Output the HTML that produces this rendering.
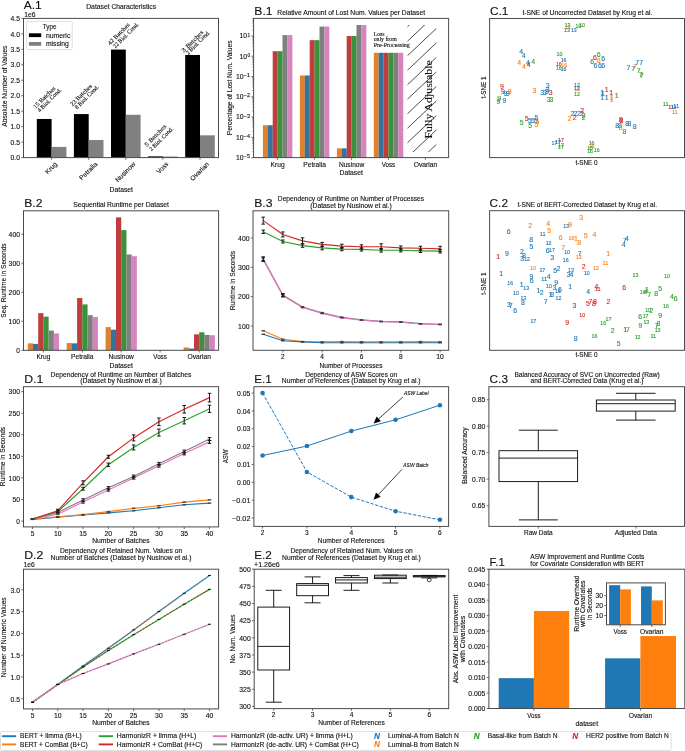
<!DOCTYPE html>
<html><head><meta charset="utf-8"><style>
html,body{margin:0;padding:0;background:#fff;}
body{width:685px;height:751px;overflow:hidden;}
svg{display:block;font-family:"Liberation Sans", sans-serif;will-change:transform;}
</style></head><body>
<svg width="685" height="751" viewBox="0 0 685 751">
<rect x="0" y="0" width="685" height="751" fill="#fff"/>
<rect x="36.80" y="118.97" width="14.80" height="38.63" fill="#000000"/>
<rect x="51.60" y="146.92" width="14.80" height="10.68" fill="#808080"/>
<rect x="73.90" y="114.08" width="14.80" height="43.52" fill="#000000"/>
<rect x="88.70" y="140.02" width="14.80" height="17.58" fill="#808080"/>
<rect x="111.00" y="49.58" width="14.80" height="108.02" fill="#000000"/>
<rect x="125.80" y="114.77" width="14.80" height="42.83" fill="#808080"/>
<rect x="148.10" y="156.36" width="14.80" height="1.24" fill="#000000"/>
<rect x="162.90" y="156.52" width="14.80" height="1.08" fill="#808080"/>
<rect x="185.20" y="54.97" width="14.80" height="102.63" fill="#000000"/>
<rect x="200.00" y="135.32" width="14.80" height="22.28" fill="#808080"/>
<rect x="23.50" y="18.40" width="195.00" height="139.20" fill="none" stroke="#4a4a4a" stroke-width="1.0"/>
<line x1="21.30" y1="157.60" x2="23.50" y2="157.60" stroke="#4a4a4a" stroke-width="0.8"/>
<text x="20.00" y="160.30" font-size="6.57" fill="#111" stroke="#111" stroke-width="0.12" text-anchor="end" textLength="9.49" lengthAdjust="spacingAndGlyphs">0.0</text>
<line x1="21.30" y1="142.12" x2="23.50" y2="142.12" stroke="#4a4a4a" stroke-width="0.8"/>
<text x="20.00" y="144.82" font-size="6.57" fill="#111" stroke="#111" stroke-width="0.12" text-anchor="end" textLength="9.49" lengthAdjust="spacingAndGlyphs">0.5</text>
<line x1="21.30" y1="126.65" x2="23.50" y2="126.65" stroke="#4a4a4a" stroke-width="0.8"/>
<text x="20.00" y="129.35" font-size="6.57" fill="#111" stroke="#111" stroke-width="0.12" text-anchor="end" textLength="9.49" lengthAdjust="spacingAndGlyphs">1.0</text>
<line x1="21.30" y1="111.17" x2="23.50" y2="111.17" stroke="#4a4a4a" stroke-width="0.8"/>
<text x="20.00" y="113.88" font-size="6.57" fill="#111" stroke="#111" stroke-width="0.12" text-anchor="end" textLength="9.49" lengthAdjust="spacingAndGlyphs">1.5</text>
<line x1="21.30" y1="95.70" x2="23.50" y2="95.70" stroke="#4a4a4a" stroke-width="0.8"/>
<text x="20.00" y="98.40" font-size="6.57" fill="#111" stroke="#111" stroke-width="0.12" text-anchor="end" textLength="9.49" lengthAdjust="spacingAndGlyphs">2.0</text>
<line x1="21.30" y1="80.22" x2="23.50" y2="80.22" stroke="#4a4a4a" stroke-width="0.8"/>
<text x="20.00" y="82.92" font-size="6.57" fill="#111" stroke="#111" stroke-width="0.12" text-anchor="end" textLength="9.49" lengthAdjust="spacingAndGlyphs">2.5</text>
<line x1="21.30" y1="64.75" x2="23.50" y2="64.75" stroke="#4a4a4a" stroke-width="0.8"/>
<text x="20.00" y="67.45" font-size="6.57" fill="#111" stroke="#111" stroke-width="0.12" text-anchor="end" textLength="9.49" lengthAdjust="spacingAndGlyphs">3.0</text>
<line x1="21.30" y1="49.27" x2="23.50" y2="49.27" stroke="#4a4a4a" stroke-width="0.8"/>
<text x="20.00" y="51.97" font-size="6.57" fill="#111" stroke="#111" stroke-width="0.12" text-anchor="end" textLength="9.49" lengthAdjust="spacingAndGlyphs">3.5</text>
<line x1="21.30" y1="33.80" x2="23.50" y2="33.80" stroke="#4a4a4a" stroke-width="0.8"/>
<text x="20.00" y="36.50" font-size="6.57" fill="#111" stroke="#111" stroke-width="0.12" text-anchor="end" textLength="9.49" lengthAdjust="spacingAndGlyphs">4.0</text>
<line x1="21.30" y1="18.32" x2="23.50" y2="18.32" stroke="#4a4a4a" stroke-width="0.8"/>
<text x="20.00" y="21.02" font-size="6.57" fill="#111" stroke="#111" stroke-width="0.12" text-anchor="end" textLength="9.49" lengthAdjust="spacingAndGlyphs">4.5</text>
<text x="24.20" y="16.50" font-size="6.57" fill="#111" stroke="#111" stroke-width="0.12" textLength="11.27" lengthAdjust="spacingAndGlyphs">1e6</text>
<text x="23.80" y="8.80" font-size="11.80" fill="#111" stroke="#111" stroke-width="0.12" textLength="17.99" lengthAdjust="spacingAndGlyphs">A.1</text>
<text x="121.20" y="8.90" font-size="6.57" fill="#111" stroke="#111" stroke-width="0.12" text-anchor="middle" textLength="69.91" lengthAdjust="spacingAndGlyphs">Dataset Characteristics</text>
<line x1="51.60" y1="157.60" x2="51.60" y2="159.80" stroke="#4a4a4a" stroke-width="0.8"/>
<text x="47.80" y="174.51" font-size="6.57" fill="#111" stroke="#111" stroke-width="0.12" transform="rotate(-45 47.80 174.51)" textLength="13.94" lengthAdjust="spacingAndGlyphs">Krug</text>
<line x1="88.70" y1="157.60" x2="88.70" y2="159.80" stroke="#4a4a4a" stroke-width="0.8"/>
<text x="81.88" y="180.55" font-size="6.57" fill="#111" stroke="#111" stroke-width="0.12" transform="rotate(-45 81.88 180.55)" textLength="22.49" lengthAdjust="spacingAndGlyphs">Petralia</text>
<line x1="125.80" y1="157.60" x2="125.80" y2="159.80" stroke="#4a4a4a" stroke-width="0.8"/>
<text x="117.97" y="182.57" font-size="6.57" fill="#111" stroke="#111" stroke-width="0.12" transform="rotate(-45 117.97 182.57)" textLength="25.34" lengthAdjust="spacingAndGlyphs">Nusinow</text>
<line x1="162.90" y1="157.60" x2="162.90" y2="159.80" stroke="#4a4a4a" stroke-width="0.8"/>
<text x="159.26" y="174.19" font-size="6.57" fill="#111" stroke="#111" stroke-width="0.12" transform="rotate(-45 159.26 174.19)" textLength="13.49" lengthAdjust="spacingAndGlyphs">Voss</text>
<line x1="200.00" y1="157.60" x2="200.00" y2="159.80" stroke="#4a4a4a" stroke-width="0.8"/>
<text x="192.84" y="181.23" font-size="6.57" fill="#111" stroke="#111" stroke-width="0.12" transform="rotate(-45 192.84 181.23)" textLength="23.45" lengthAdjust="spacingAndGlyphs">Ovarian</text>
<text x="121.30" y="191.50" font-size="6.57" fill="#111" stroke="#111" stroke-width="0.12" text-anchor="middle" textLength="23.38" lengthAdjust="spacingAndGlyphs">Dataset</text>
<text x="7.00" y="86.20" font-size="6.57" fill="#111" stroke="#111" stroke-width="0.12" text-anchor="middle" transform="rotate(-90 7.00 86.20)" textLength="81.03" lengthAdjust="spacingAndGlyphs">Absolute Number of Values</text>
<rect x="26.60" y="21.40" width="45.60" height="28.20" fill="#ffffff" stroke="#d0d0d0" stroke-width="0.7" rx="1.2"/>
<text x="49.60" y="28.60" font-size="6.57" fill="#111" stroke="#111" stroke-width="0.12" text-anchor="middle" textLength="13.71" lengthAdjust="spacingAndGlyphs">Type</text>
<rect x="28.90" y="33.30" width="12.30" height="3.80" fill="#000000"/>
<text x="45.90" y="37.50" font-size="6.57" fill="#111" stroke="#111" stroke-width="0.12" textLength="24.45" lengthAdjust="spacingAndGlyphs">numeric</text>
<rect x="28.90" y="42.00" width="12.30" height="3.80" fill="#808080"/>
<text x="45.90" y="46.00" font-size="6.57" fill="#111" stroke="#111" stroke-width="0.12" textLength="22.93" lengthAdjust="spacingAndGlyphs">missing</text>
<text x="35.60" y="109.00" font-size="6.00" fill="#111" stroke="#111" stroke-width="0.12" font-family='"Liberation Serif", serif' transform="rotate(-45 35.60 109.00)" textLength="28.40" lengthAdjust="spacingAndGlyphs">15 Batches</text>
<text x="39.70" y="112.50" font-size="6.00" fill="#111" stroke="#111" stroke-width="0.12" font-family='"Liberation Serif", serif' transform="rotate(-45 39.70 112.50)" textLength="31.20" lengthAdjust="spacingAndGlyphs">4 Biol. Cond.</text>
<text x="72.40" y="106.60" font-size="6.00" fill="#111" stroke="#111" stroke-width="0.12" font-family='"Liberation Serif", serif' transform="rotate(-45 72.40 106.60)" textLength="28.40" lengthAdjust="spacingAndGlyphs">23 Batches</text>
<text x="77.10" y="109.50" font-size="6.00" fill="#111" stroke="#111" stroke-width="0.12" font-family='"Liberation Serif", serif' transform="rotate(-45 77.10 109.50)" textLength="31.20" lengthAdjust="spacingAndGlyphs">8 Biol. Cond.</text>
<text x="110.00" y="45.40" font-size="6.00" fill="#111" stroke="#111" stroke-width="0.12" font-family='"Liberation Serif", serif' transform="rotate(-45 110.00 45.40)" textLength="28.40" lengthAdjust="spacingAndGlyphs">42 Batches</text>
<text x="115.30" y="48.60" font-size="6.00" fill="#111" stroke="#111" stroke-width="0.12" font-family='"Liberation Serif", serif' transform="rotate(-45 115.30 48.60)" textLength="33.70" lengthAdjust="spacingAndGlyphs">22 Biol. Cond.</text>
<text x="146.80" y="146.90" font-size="6.00" fill="#111" stroke="#111" stroke-width="0.12" font-family='"Liberation Serif", serif' transform="rotate(-45 146.80 146.90)" textLength="28.40" lengthAdjust="spacingAndGlyphs">5 Batches</text>
<text x="151.60" y="151.30" font-size="6.00" fill="#111" stroke="#111" stroke-width="0.12" font-family='"Liberation Serif", serif' transform="rotate(-45 151.60 151.30)" textLength="31.20" lengthAdjust="spacingAndGlyphs">2 Biol. Cond.</text>
<text x="183.80" y="52.70" font-size="6.00" fill="#111" stroke="#111" stroke-width="0.12" font-family='"Liberation Serif", serif' transform="rotate(-45 183.80 52.70)" textLength="28.40" lengthAdjust="spacingAndGlyphs">3 Batches</text>
<text x="188.20" y="55.00" font-size="6.00" fill="#111" stroke="#111" stroke-width="0.12" font-family='"Liberation Serif", serif' transform="rotate(-45 188.20 55.00)" textLength="31.20" lengthAdjust="spacingAndGlyphs">2 Biol. Cond.</text>
<rect x="262.90" y="125.22" width="4.95" height="32.38" fill="#e1812c"/>
<rect x="267.80" y="125.22" width="4.95" height="32.38" fill="#3274a1"/>
<rect x="272.70" y="51.21" width="4.95" height="106.39" fill="#c03d3e"/>
<rect x="277.60" y="51.21" width="4.95" height="106.39" fill="#3a923a"/>
<rect x="282.50" y="35.09" width="4.95" height="122.51" fill="#7f7f7f"/>
<rect x="287.40" y="35.09" width="4.95" height="122.51" fill="#d684bd"/>
<rect x="299.90" y="75.48" width="4.95" height="82.11" fill="#e1812c"/>
<rect x="304.80" y="75.48" width="4.95" height="82.11" fill="#3274a1"/>
<rect x="309.70" y="40.16" width="4.95" height="117.44" fill="#c03d3e"/>
<rect x="314.60" y="40.16" width="4.95" height="117.44" fill="#3a923a"/>
<rect x="319.50" y="26.56" width="4.95" height="131.04" fill="#7f7f7f"/>
<rect x="324.40" y="26.56" width="4.95" height="131.04" fill="#d684bd"/>
<rect x="336.90" y="148.36" width="4.95" height="9.24" fill="#e1812c"/>
<rect x="341.80" y="148.36" width="4.95" height="9.24" fill="#3274a1"/>
<rect x="346.70" y="36.00" width="4.95" height="121.60" fill="#c03d3e"/>
<rect x="351.60" y="36.00" width="4.95" height="121.60" fill="#3a923a"/>
<rect x="356.50" y="25.00" width="4.95" height="132.60" fill="#7f7f7f"/>
<rect x="361.40" y="25.00" width="4.95" height="132.60" fill="#d684bd"/>
<rect x="373.80" y="52.81" width="4.95" height="104.79" fill="#e1812c"/>
<rect x="378.70" y="52.81" width="4.95" height="104.79" fill="#3274a1"/>
<rect x="383.60" y="52.81" width="4.95" height="104.79" fill="#c03d3e"/>
<rect x="388.50" y="52.81" width="4.95" height="104.79" fill="#3a923a"/>
<rect x="393.40" y="52.81" width="4.95" height="104.79" fill="#7f7f7f"/>
<rect x="398.30" y="52.81" width="4.95" height="104.79" fill="#d684bd"/>
<clipPath id="hclip"><rect x="407.3" y="25" width="29" height="127"/></clipPath>
<g clip-path="url(#hclip)" stroke="#111" stroke-width="0.75"><line x1="407.3" y1="12.40" x2="447.30" y2="-25.40"/><line x1="407.3" y1="26.90" x2="447.30" y2="-10.90"/><line x1="407.3" y1="41.40" x2="447.30" y2="3.60"/><line x1="407.3" y1="55.90" x2="447.30" y2="18.10"/><line x1="407.3" y1="70.40" x2="447.30" y2="32.60"/><line x1="407.3" y1="84.90" x2="447.30" y2="47.10"/><line x1="407.3" y1="99.40" x2="447.30" y2="61.60"/><line x1="407.3" y1="113.90" x2="447.30" y2="76.10"/><line x1="407.3" y1="128.40" x2="447.30" y2="90.60"/><line x1="407.3" y1="142.90" x2="447.30" y2="105.10"/><line x1="407.3" y1="157.40" x2="447.30" y2="119.60"/><line x1="407.3" y1="171.90" x2="447.30" y2="134.10"/><line x1="407.3" y1="186.40" x2="447.30" y2="148.60"/><line x1="407.3" y1="200.90" x2="447.30" y2="163.10"/><line x1="407.3" y1="215.40" x2="447.30" y2="177.60"/><line x1="407.3" y1="229.90" x2="447.30" y2="192.10"/></g>
<text x="432.00" y="138.60" font-size="10.50" fill="#111" stroke="#111" stroke-width="0.12" font-family='"Liberation Serif", serif' transform="rotate(-90 432.00 138.60)" textLength="78.28" lengthAdjust="spacingAndGlyphs">Fully Adjustable</text>
<text x="373.70" y="35.80" font-size="5.60" fill="#111" stroke="#111" stroke-width="0.12" font-family='"Liberation Serif", serif' textLength="10.89" lengthAdjust="spacingAndGlyphs">Loss</text>
<text x="373.70" y="41.20" font-size="5.60" fill="#111" stroke="#111" stroke-width="0.12" font-family='"Liberation Serif", serif' textLength="23.02" lengthAdjust="spacingAndGlyphs">only from</text>
<text x="373.70" y="46.60" font-size="5.60" fill="#111" stroke="#111" stroke-width="0.12" font-family='"Liberation Serif", serif' textLength="36.17" lengthAdjust="spacingAndGlyphs">Pre-Processing</text>
<rect x="253.60" y="18.40" width="195.00" height="139.20" fill="none" stroke="#4a4a4a" stroke-width="1.0"/>
<line x1="251.40" y1="157.70" x2="253.60" y2="157.70" stroke="#4a4a4a" stroke-width="0.8"/>
<text x="250.00" y="158.30" font-size="4.62" fill="#111" stroke="#111" stroke-width="0.12" text-anchor="end" textLength="6.19" lengthAdjust="spacingAndGlyphs">−5</text>
<text x="243.61" y="160.00" font-size="6.57" fill="#111" stroke="#111" stroke-width="0.12" text-anchor="end" textLength="7.60" lengthAdjust="spacingAndGlyphs">10</text>
<line x1="251.40" y1="137.40" x2="253.60" y2="137.40" stroke="#4a4a4a" stroke-width="0.8"/>
<text x="250.00" y="138.00" font-size="4.62" fill="#111" stroke="#111" stroke-width="0.12" text-anchor="end" textLength="6.19" lengthAdjust="spacingAndGlyphs">−4</text>
<text x="243.61" y="139.70" font-size="6.57" fill="#111" stroke="#111" stroke-width="0.12" text-anchor="end" textLength="7.60" lengthAdjust="spacingAndGlyphs">10</text>
<line x1="251.40" y1="117.10" x2="253.60" y2="117.10" stroke="#4a4a4a" stroke-width="0.8"/>
<text x="250.00" y="117.70" font-size="4.62" fill="#111" stroke="#111" stroke-width="0.12" text-anchor="end" textLength="6.19" lengthAdjust="spacingAndGlyphs">−3</text>
<text x="243.61" y="119.40" font-size="6.57" fill="#111" stroke="#111" stroke-width="0.12" text-anchor="end" textLength="7.60" lengthAdjust="spacingAndGlyphs">10</text>
<line x1="251.40" y1="96.80" x2="253.60" y2="96.80" stroke="#4a4a4a" stroke-width="0.8"/>
<text x="250.00" y="97.40" font-size="4.62" fill="#111" stroke="#111" stroke-width="0.12" text-anchor="end" textLength="6.19" lengthAdjust="spacingAndGlyphs">−2</text>
<text x="243.61" y="99.10" font-size="6.57" fill="#111" stroke="#111" stroke-width="0.12" text-anchor="end" textLength="7.60" lengthAdjust="spacingAndGlyphs">10</text>
<line x1="251.40" y1="76.50" x2="253.60" y2="76.50" stroke="#4a4a4a" stroke-width="0.8"/>
<text x="250.00" y="77.10" font-size="4.62" fill="#111" stroke="#111" stroke-width="0.12" text-anchor="end" textLength="6.19" lengthAdjust="spacingAndGlyphs">−1</text>
<text x="243.61" y="78.80" font-size="6.57" fill="#111" stroke="#111" stroke-width="0.12" text-anchor="end" textLength="7.60" lengthAdjust="spacingAndGlyphs">10</text>
<line x1="251.40" y1="56.20" x2="253.60" y2="56.20" stroke="#4a4a4a" stroke-width="0.8"/>
<text x="250.00" y="56.80" font-size="4.62" fill="#111" stroke="#111" stroke-width="0.12" text-anchor="end">0</text>
<text x="247.13" y="58.50" font-size="6.57" fill="#111" stroke="#111" stroke-width="0.12" text-anchor="end" textLength="7.60" lengthAdjust="spacingAndGlyphs">10</text>
<line x1="251.40" y1="35.90" x2="253.60" y2="35.90" stroke="#4a4a4a" stroke-width="0.8"/>
<text x="250.00" y="36.50" font-size="4.62" fill="#111" stroke="#111" stroke-width="0.12" text-anchor="end">1</text>
<text x="247.13" y="38.20" font-size="6.57" fill="#111" stroke="#111" stroke-width="0.12" text-anchor="end" textLength="7.60" lengthAdjust="spacingAndGlyphs">10</text>
<line x1="252.30" y1="151.59" x2="253.60" y2="151.59" stroke="#4a4a4a" stroke-width="0.6"/>
<line x1="252.30" y1="148.01" x2="253.60" y2="148.01" stroke="#4a4a4a" stroke-width="0.6"/>
<line x1="252.30" y1="145.48" x2="253.60" y2="145.48" stroke="#4a4a4a" stroke-width="0.6"/>
<line x1="252.30" y1="143.51" x2="253.60" y2="143.51" stroke="#4a4a4a" stroke-width="0.6"/>
<line x1="252.30" y1="141.90" x2="253.60" y2="141.90" stroke="#4a4a4a" stroke-width="0.6"/>
<line x1="252.30" y1="140.54" x2="253.60" y2="140.54" stroke="#4a4a4a" stroke-width="0.6"/>
<line x1="252.30" y1="139.37" x2="253.60" y2="139.37" stroke="#4a4a4a" stroke-width="0.6"/>
<line x1="252.30" y1="138.33" x2="253.60" y2="138.33" stroke="#4a4a4a" stroke-width="0.6"/>
<line x1="252.30" y1="131.29" x2="253.60" y2="131.29" stroke="#4a4a4a" stroke-width="0.6"/>
<line x1="252.30" y1="127.71" x2="253.60" y2="127.71" stroke="#4a4a4a" stroke-width="0.6"/>
<line x1="252.30" y1="125.18" x2="253.60" y2="125.18" stroke="#4a4a4a" stroke-width="0.6"/>
<line x1="252.30" y1="123.21" x2="253.60" y2="123.21" stroke="#4a4a4a" stroke-width="0.6"/>
<line x1="252.30" y1="121.60" x2="253.60" y2="121.60" stroke="#4a4a4a" stroke-width="0.6"/>
<line x1="252.30" y1="120.24" x2="253.60" y2="120.24" stroke="#4a4a4a" stroke-width="0.6"/>
<line x1="252.30" y1="119.07" x2="253.60" y2="119.07" stroke="#4a4a4a" stroke-width="0.6"/>
<line x1="252.30" y1="118.03" x2="253.60" y2="118.03" stroke="#4a4a4a" stroke-width="0.6"/>
<line x1="252.30" y1="110.99" x2="253.60" y2="110.99" stroke="#4a4a4a" stroke-width="0.6"/>
<line x1="252.30" y1="107.41" x2="253.60" y2="107.41" stroke="#4a4a4a" stroke-width="0.6"/>
<line x1="252.30" y1="104.88" x2="253.60" y2="104.88" stroke="#4a4a4a" stroke-width="0.6"/>
<line x1="252.30" y1="102.91" x2="253.60" y2="102.91" stroke="#4a4a4a" stroke-width="0.6"/>
<line x1="252.30" y1="101.30" x2="253.60" y2="101.30" stroke="#4a4a4a" stroke-width="0.6"/>
<line x1="252.30" y1="99.94" x2="253.60" y2="99.94" stroke="#4a4a4a" stroke-width="0.6"/>
<line x1="252.30" y1="98.77" x2="253.60" y2="98.77" stroke="#4a4a4a" stroke-width="0.6"/>
<line x1="252.30" y1="97.73" x2="253.60" y2="97.73" stroke="#4a4a4a" stroke-width="0.6"/>
<line x1="252.30" y1="90.69" x2="253.60" y2="90.69" stroke="#4a4a4a" stroke-width="0.6"/>
<line x1="252.30" y1="87.11" x2="253.60" y2="87.11" stroke="#4a4a4a" stroke-width="0.6"/>
<line x1="252.30" y1="84.58" x2="253.60" y2="84.58" stroke="#4a4a4a" stroke-width="0.6"/>
<line x1="252.30" y1="82.61" x2="253.60" y2="82.61" stroke="#4a4a4a" stroke-width="0.6"/>
<line x1="252.30" y1="81.00" x2="253.60" y2="81.00" stroke="#4a4a4a" stroke-width="0.6"/>
<line x1="252.30" y1="79.64" x2="253.60" y2="79.64" stroke="#4a4a4a" stroke-width="0.6"/>
<line x1="252.30" y1="78.47" x2="253.60" y2="78.47" stroke="#4a4a4a" stroke-width="0.6"/>
<line x1="252.30" y1="77.43" x2="253.60" y2="77.43" stroke="#4a4a4a" stroke-width="0.6"/>
<line x1="252.30" y1="70.39" x2="253.60" y2="70.39" stroke="#4a4a4a" stroke-width="0.6"/>
<line x1="252.30" y1="66.81" x2="253.60" y2="66.81" stroke="#4a4a4a" stroke-width="0.6"/>
<line x1="252.30" y1="64.28" x2="253.60" y2="64.28" stroke="#4a4a4a" stroke-width="0.6"/>
<line x1="252.30" y1="62.31" x2="253.60" y2="62.31" stroke="#4a4a4a" stroke-width="0.6"/>
<line x1="252.30" y1="60.70" x2="253.60" y2="60.70" stroke="#4a4a4a" stroke-width="0.6"/>
<line x1="252.30" y1="59.34" x2="253.60" y2="59.34" stroke="#4a4a4a" stroke-width="0.6"/>
<line x1="252.30" y1="58.17" x2="253.60" y2="58.17" stroke="#4a4a4a" stroke-width="0.6"/>
<line x1="252.30" y1="57.13" x2="253.60" y2="57.13" stroke="#4a4a4a" stroke-width="0.6"/>
<line x1="252.30" y1="50.09" x2="253.60" y2="50.09" stroke="#4a4a4a" stroke-width="0.6"/>
<line x1="252.30" y1="46.51" x2="253.60" y2="46.51" stroke="#4a4a4a" stroke-width="0.6"/>
<line x1="252.30" y1="43.98" x2="253.60" y2="43.98" stroke="#4a4a4a" stroke-width="0.6"/>
<line x1="252.30" y1="42.01" x2="253.60" y2="42.01" stroke="#4a4a4a" stroke-width="0.6"/>
<line x1="252.30" y1="40.40" x2="253.60" y2="40.40" stroke="#4a4a4a" stroke-width="0.6"/>
<line x1="252.30" y1="39.04" x2="253.60" y2="39.04" stroke="#4a4a4a" stroke-width="0.6"/>
<line x1="252.30" y1="37.87" x2="253.60" y2="37.87" stroke="#4a4a4a" stroke-width="0.6"/>
<line x1="252.30" y1="36.83" x2="253.60" y2="36.83" stroke="#4a4a4a" stroke-width="0.6"/>
<line x1="252.30" y1="29.79" x2="253.60" y2="29.79" stroke="#4a4a4a" stroke-width="0.6"/>
<line x1="252.30" y1="26.21" x2="253.60" y2="26.21" stroke="#4a4a4a" stroke-width="0.6"/>
<line x1="252.30" y1="23.68" x2="253.60" y2="23.68" stroke="#4a4a4a" stroke-width="0.6"/>
<line x1="252.30" y1="21.71" x2="253.60" y2="21.71" stroke="#4a4a4a" stroke-width="0.6"/>
<line x1="252.30" y1="20.10" x2="253.60" y2="20.10" stroke="#4a4a4a" stroke-width="0.6"/>
<line x1="252.30" y1="18.74" x2="253.60" y2="18.74" stroke="#4a4a4a" stroke-width="0.6"/>
<line x1="277.60" y1="157.60" x2="277.60" y2="159.80" stroke="#4a4a4a" stroke-width="0.8"/>
<text x="277.60" y="166.60" font-size="6.57" fill="#111" stroke="#111" stroke-width="0.12" text-anchor="middle" textLength="13.94" lengthAdjust="spacingAndGlyphs">Krug</text>
<line x1="314.60" y1="157.60" x2="314.60" y2="159.80" stroke="#4a4a4a" stroke-width="0.8"/>
<text x="314.60" y="166.60" font-size="6.57" fill="#111" stroke="#111" stroke-width="0.12" text-anchor="middle" textLength="22.49" lengthAdjust="spacingAndGlyphs">Petralia</text>
<line x1="351.60" y1="157.60" x2="351.60" y2="159.80" stroke="#4a4a4a" stroke-width="0.8"/>
<text x="351.60" y="166.60" font-size="6.57" fill="#111" stroke="#111" stroke-width="0.12" text-anchor="middle" textLength="25.34" lengthAdjust="spacingAndGlyphs">Nusinow</text>
<line x1="388.50" y1="157.60" x2="388.50" y2="159.80" stroke="#4a4a4a" stroke-width="0.8"/>
<text x="388.50" y="166.60" font-size="6.57" fill="#111" stroke="#111" stroke-width="0.12" text-anchor="middle" textLength="13.49" lengthAdjust="spacingAndGlyphs">Voss</text>
<line x1="425.40" y1="157.60" x2="425.40" y2="159.80" stroke="#4a4a4a" stroke-width="0.8"/>
<text x="425.40" y="166.60" font-size="6.57" fill="#111" stroke="#111" stroke-width="0.12" text-anchor="middle" textLength="23.45" lengthAdjust="spacingAndGlyphs">Ovarian</text>
<text x="351.20" y="175.00" font-size="6.57" fill="#111" stroke="#111" stroke-width="0.12" text-anchor="middle" textLength="23.38" lengthAdjust="spacingAndGlyphs">Dataset</text>
<text x="232.20" y="87.90" font-size="6.57" fill="#111" stroke="#111" stroke-width="0.12" text-anchor="middle" transform="rotate(-90 232.20 87.90)" textLength="94.72" lengthAdjust="spacingAndGlyphs">Percentage of Lost Num. Values</text>
<text x="254.30" y="15.30" font-size="11.80" fill="#111" stroke="#111" stroke-width="0.12" textLength="18.21" lengthAdjust="spacingAndGlyphs">B.1</text>
<text x="351.20" y="15.40" font-size="6.57" fill="#111" stroke="#111" stroke-width="0.12" text-anchor="middle" textLength="147.66" lengthAdjust="spacingAndGlyphs">Relative Amount of Lost Num. Values per Dataset</text>
<text x="567.60" y="26.56" font-size="5.06" fill="#2ca02c" stroke="#2ca02c" stroke-width="0.12" text-anchor="middle" textLength="5.85" lengthAdjust="spacingAndGlyphs">13</text>
<text x="567.60" y="29.46" font-size="5.06" fill="#ff7f0e" stroke="#ff7f0e" stroke-width="0.12" text-anchor="middle" textLength="5.85" lengthAdjust="spacingAndGlyphs">13</text>
<text x="567.00" y="31.96" font-size="5.06" fill="#1f77b4" stroke="#1f77b4" stroke-width="0.12" text-anchor="middle" textLength="5.85" lengthAdjust="spacingAndGlyphs">13</text>
<text x="573.80" y="32.46" font-size="5.06" fill="#1f77b4" stroke="#1f77b4" stroke-width="0.12" text-anchor="middle" textLength="5.85" lengthAdjust="spacingAndGlyphs">13</text>
<text x="578.50" y="27.66" font-size="5.06" fill="#2ca02c" stroke="#2ca02c" stroke-width="0.12" text-anchor="middle" textLength="5.85" lengthAdjust="spacingAndGlyphs">10</text>
<text x="582.00" y="27.26" font-size="5.06" fill="#2ca02c" stroke="#2ca02c" stroke-width="0.12" text-anchor="middle" textLength="5.85" lengthAdjust="spacingAndGlyphs">10</text>
<text x="521.30" y="54.07" font-size="6.93" fill="#1f77b4" stroke="#1f77b4" stroke-width="0.12" text-anchor="middle">4</text>
<text x="523.80" y="57.87" font-size="6.93" fill="#1f77b4" stroke="#1f77b4" stroke-width="0.12" text-anchor="middle">4</text>
<text x="519.10" y="64.87" font-size="6.93" fill="#ff7f0e" stroke="#ff7f0e" stroke-width="0.12" text-anchor="middle">4</text>
<text x="524.00" y="68.77" font-size="6.93" fill="#ff7f0e" stroke="#ff7f0e" stroke-width="0.12" text-anchor="middle">4</text>
<text x="527.90" y="64.67" font-size="6.93" fill="#1f77b4" stroke="#1f77b4" stroke-width="0.12" text-anchor="middle">4</text>
<text x="528.70" y="66.87" font-size="6.93" fill="#d62728" stroke="#d62728" stroke-width="0.12" text-anchor="middle">4</text>
<text x="533.30" y="63.97" font-size="6.93" fill="#2ca02c" stroke="#2ca02c" stroke-width="0.12" text-anchor="middle">4</text>
<text x="559.50" y="56.36" font-size="5.06" fill="#2ca02c" stroke="#2ca02c" stroke-width="0.12" text-anchor="middle" textLength="5.85" lengthAdjust="spacingAndGlyphs">10</text>
<text x="563.60" y="61.66" font-size="5.06" fill="#1f77b4" stroke="#1f77b4" stroke-width="0.12" text-anchor="middle" textLength="5.85" lengthAdjust="spacingAndGlyphs">16</text>
<text x="558.80" y="65.96" font-size="5.06" fill="#d62728" stroke="#d62728" stroke-width="0.12" text-anchor="middle" textLength="5.85" lengthAdjust="spacingAndGlyphs">16</text>
<text x="564.20" y="67.06" font-size="5.06" fill="#ff7f0e" stroke="#ff7f0e" stroke-width="0.12" text-anchor="middle" textLength="5.85" lengthAdjust="spacingAndGlyphs">16</text>
<text x="558.80" y="70.26" font-size="5.06" fill="#2ca02c" stroke="#2ca02c" stroke-width="0.12" text-anchor="middle" textLength="5.85" lengthAdjust="spacingAndGlyphs">16</text>
<text x="563.60" y="70.96" font-size="5.06" fill="#1f77b4" stroke="#1f77b4" stroke-width="0.12" text-anchor="middle" textLength="5.85" lengthAdjust="spacingAndGlyphs">16</text>
<text x="598.60" y="56.67" font-size="6.93" fill="#2ca02c" stroke="#2ca02c" stroke-width="0.12" text-anchor="middle">6</text>
<text x="594.90" y="60.47" font-size="6.93" fill="#d62728" stroke="#d62728" stroke-width="0.12" text-anchor="middle">6</text>
<text x="598.60" y="63.27" font-size="6.93" fill="#ff7f0e" stroke="#ff7f0e" stroke-width="0.12" text-anchor="middle">6</text>
<text x="603.20" y="61.47" font-size="6.93" fill="#1f77b4" stroke="#1f77b4" stroke-width="0.12" text-anchor="middle">6</text>
<text x="592.30" y="63.67" font-size="6.93" fill="#2ca02c" stroke="#2ca02c" stroke-width="0.12" text-anchor="middle">6</text>
<text x="595.50" y="68.07" font-size="6.93" fill="#1f77b4" stroke="#1f77b4" stroke-width="0.12" text-anchor="middle">6</text>
<text x="600.00" y="68.07" font-size="6.93" fill="#1f77b4" stroke="#1f77b4" stroke-width="0.12" text-anchor="middle">6</text>
<text x="603.20" y="68.07" font-size="6.93" fill="#1f77b4" stroke="#1f77b4" stroke-width="0.12" text-anchor="middle">6</text>
<text x="628.50" y="69.87" font-size="6.93" fill="#1f77b4" stroke="#1f77b4" stroke-width="0.12" text-anchor="middle">7</text>
<text x="633.20" y="71.27" font-size="6.93" fill="#1f77b4" stroke="#1f77b4" stroke-width="0.12" text-anchor="middle">7</text>
<text x="635.00" y="69.07" font-size="6.93" fill="#ff7f0e" stroke="#ff7f0e" stroke-width="0.12" text-anchor="middle">7</text>
<text x="637.30" y="65.47" font-size="6.93" fill="#1f77b4" stroke="#1f77b4" stroke-width="0.12" text-anchor="middle">7</text>
<text x="641.20" y="64.67" font-size="6.93" fill="#1f77b4" stroke="#1f77b4" stroke-width="0.12" text-anchor="middle">7</text>
<text x="638.70" y="72.77" font-size="6.93" fill="#2ca02c" stroke="#2ca02c" stroke-width="0.12" text-anchor="middle">7</text>
<text x="641.60" y="77.57" font-size="6.93" fill="#2ca02c" stroke="#2ca02c" stroke-width="0.12" text-anchor="middle">7</text>
<text x="641.00" y="76.77" font-size="6.93" fill="#2ca02c" stroke="#2ca02c" stroke-width="0.12" text-anchor="middle">7</text>
<text x="501.90" y="88.67" font-size="6.93" fill="#d62728" stroke="#d62728" stroke-width="0.12" text-anchor="middle">9</text>
<text x="509.60" y="93.97" font-size="6.93" fill="#ff7f0e" stroke="#ff7f0e" stroke-width="0.12" text-anchor="middle">9</text>
<text x="503.00" y="93.97" font-size="6.93" fill="#1f77b4" stroke="#1f77b4" stroke-width="0.12" text-anchor="middle">9</text>
<text x="505.50" y="96.27" font-size="6.93" fill="#1f77b4" stroke="#1f77b4" stroke-width="0.12" text-anchor="middle">9</text>
<text x="507.90" y="96.27" font-size="6.93" fill="#1f77b4" stroke="#1f77b4" stroke-width="0.12" text-anchor="middle">9</text>
<text x="499.20" y="100.97" font-size="6.93" fill="#2ca02c" stroke="#2ca02c" stroke-width="0.12" text-anchor="middle">9</text>
<text x="498.50" y="104.27" font-size="6.93" fill="#2ca02c" stroke="#2ca02c" stroke-width="0.12" text-anchor="middle">9</text>
<text x="504.40" y="102.67" font-size="6.93" fill="#1f77b4" stroke="#1f77b4" stroke-width="0.12" text-anchor="middle">9</text>
<text x="534.40" y="92.77" font-size="6.93" fill="#ff7f0e" stroke="#ff7f0e" stroke-width="0.12" text-anchor="middle">3</text>
<text x="547.60" y="88.07" font-size="6.93" fill="#1f77b4" stroke="#1f77b4" stroke-width="0.12" text-anchor="middle">3</text>
<text x="547.60" y="92.27" font-size="6.93" fill="#1f77b4" stroke="#1f77b4" stroke-width="0.12" text-anchor="middle">3</text>
<text x="547.00" y="94.27" font-size="6.93" fill="#1f77b4" stroke="#1f77b4" stroke-width="0.12" text-anchor="middle">3</text>
<text x="542.30" y="95.07" font-size="6.93" fill="#1f77b4" stroke="#1f77b4" stroke-width="0.12" text-anchor="middle">3</text>
<text x="545.00" y="95.27" font-size="6.93" fill="#1f77b4" stroke="#1f77b4" stroke-width="0.12" text-anchor="middle">3</text>
<text x="550.80" y="95.07" font-size="6.93" fill="#d62728" stroke="#d62728" stroke-width="0.12" text-anchor="middle">3</text>
<text x="548.60" y="101.67" font-size="6.93" fill="#2ca02c" stroke="#2ca02c" stroke-width="0.12" text-anchor="middle">3</text>
<text x="551.50" y="101.67" font-size="6.93" fill="#2ca02c" stroke="#2ca02c" stroke-width="0.12" text-anchor="middle">3</text>
<text x="577.00" y="86.76" font-size="5.06" fill="#1f77b4" stroke="#1f77b4" stroke-width="0.12" text-anchor="middle" textLength="5.85" lengthAdjust="spacingAndGlyphs">12</text>
<text x="577.00" y="89.66" font-size="5.06" fill="#1f77b4" stroke="#1f77b4" stroke-width="0.12" text-anchor="middle" textLength="5.85" lengthAdjust="spacingAndGlyphs">12</text>
<text x="577.00" y="91.16" font-size="5.06" fill="#ff7f0e" stroke="#ff7f0e" stroke-width="0.12" text-anchor="middle" textLength="5.85" lengthAdjust="spacingAndGlyphs">12</text>
<text x="577.00" y="96.26" font-size="5.06" fill="#2ca02c" stroke="#2ca02c" stroke-width="0.12" text-anchor="middle" textLength="5.85" lengthAdjust="spacingAndGlyphs">12</text>
<text x="526.70" y="120.97" font-size="6.93" fill="#d62728" stroke="#d62728" stroke-width="0.12" text-anchor="middle">5</text>
<text x="530.00" y="123.27" font-size="6.93" fill="#1f77b4" stroke="#1f77b4" stroke-width="0.12" text-anchor="middle">5</text>
<text x="533.00" y="123.27" font-size="6.93" fill="#1f77b4" stroke="#1f77b4" stroke-width="0.12" text-anchor="middle">5</text>
<text x="536.00" y="123.27" font-size="6.93" fill="#1f77b4" stroke="#1f77b4" stroke-width="0.12" text-anchor="middle">5</text>
<text x="536.50" y="120.47" font-size="6.93" fill="#1f77b4" stroke="#1f77b4" stroke-width="0.12" text-anchor="middle">5</text>
<text x="521.60" y="124.57" font-size="6.93" fill="#2ca02c" stroke="#2ca02c" stroke-width="0.12" text-anchor="middle">5</text>
<text x="530.30" y="127.57" font-size="6.93" fill="#2ca02c" stroke="#2ca02c" stroke-width="0.12" text-anchor="middle">5</text>
<text x="536.50" y="127.27" font-size="6.93" fill="#ff7f0e" stroke="#ff7f0e" stroke-width="0.12" text-anchor="middle">5</text>
<text x="537.50" y="123.77" font-size="6.93" fill="#ff7f0e" stroke="#ff7f0e" stroke-width="0.12" text-anchor="middle">5</text>
<text x="569.50" y="120.97" font-size="6.93" fill="#ff7f0e" stroke="#ff7f0e" stroke-width="0.12" text-anchor="middle">2</text>
<text x="574.60" y="119.97" font-size="6.93" fill="#d62728" stroke="#d62728" stroke-width="0.12" text-anchor="middle">2</text>
<text x="572.40" y="115.87" font-size="6.93" fill="#1f77b4" stroke="#1f77b4" stroke-width="0.12" text-anchor="middle">2</text>
<text x="575.50" y="116.27" font-size="6.93" fill="#1f77b4" stroke="#1f77b4" stroke-width="0.12" text-anchor="middle">2</text>
<text x="579.00" y="116.27" font-size="6.93" fill="#1f77b4" stroke="#1f77b4" stroke-width="0.12" text-anchor="middle">2</text>
<text x="582.00" y="116.27" font-size="6.93" fill="#1f77b4" stroke="#1f77b4" stroke-width="0.12" text-anchor="middle">2</text>
<text x="582.20" y="113.27" font-size="6.93" fill="#d62728" stroke="#d62728" stroke-width="0.12" text-anchor="middle">2</text>
<text x="583.60" y="118.07" font-size="6.93" fill="#2ca02c" stroke="#2ca02c" stroke-width="0.12" text-anchor="middle">2</text>
<text x="583.60" y="120.27" font-size="6.93" fill="#2ca02c" stroke="#2ca02c" stroke-width="0.12" text-anchor="middle">2</text>
<text x="554.40" y="145.46" font-size="5.06" fill="#1f77b4" stroke="#1f77b4" stroke-width="0.12" text-anchor="middle" textLength="5.85" lengthAdjust="spacingAndGlyphs">17</text>
<text x="558.00" y="143.66" font-size="5.06" fill="#1f77b4" stroke="#1f77b4" stroke-width="0.12" text-anchor="middle" textLength="5.85" lengthAdjust="spacingAndGlyphs">17</text>
<text x="561.00" y="141.56" font-size="5.06" fill="#d62728" stroke="#d62728" stroke-width="0.12" text-anchor="middle" textLength="5.85" lengthAdjust="spacingAndGlyphs">17</text>
<text x="561.00" y="146.66" font-size="5.06" fill="#2ca02c" stroke="#2ca02c" stroke-width="0.12" text-anchor="middle" textLength="5.85" lengthAdjust="spacingAndGlyphs">17</text>
<text x="561.00" y="148.66" font-size="5.06" fill="#2ca02c" stroke="#2ca02c" stroke-width="0.12" text-anchor="middle" textLength="5.85" lengthAdjust="spacingAndGlyphs">17</text>
<text x="606.60" y="91.77" font-size="6.93" fill="#d62728" stroke="#d62728" stroke-width="0.12" text-anchor="middle">1</text>
<text x="602.20" y="95.07" font-size="6.93" fill="#1f77b4" stroke="#1f77b4" stroke-width="0.12" text-anchor="middle">1</text>
<text x="603.00" y="96.27" font-size="6.93" fill="#1f77b4" stroke="#1f77b4" stroke-width="0.12" text-anchor="middle">1</text>
<text x="611.30" y="94.67" font-size="6.93" fill="#d62728" stroke="#d62728" stroke-width="0.12" text-anchor="middle">1</text>
<text x="616.80" y="97.57" font-size="6.93" fill="#2ca02c" stroke="#2ca02c" stroke-width="0.12" text-anchor="middle">1</text>
<text x="602.20" y="99.77" font-size="6.93" fill="#1f77b4" stroke="#1f77b4" stroke-width="0.12" text-anchor="middle">1</text>
<text x="606.60" y="99.77" font-size="6.93" fill="#1f77b4" stroke="#1f77b4" stroke-width="0.12" text-anchor="middle">1</text>
<text x="611.60" y="99.77" font-size="6.93" fill="#ff7f0e" stroke="#ff7f0e" stroke-width="0.12" text-anchor="middle">1</text>
<text x="611.60" y="102.27" font-size="6.93" fill="#ff7f0e" stroke="#ff7f0e" stroke-width="0.12" text-anchor="middle">1</text>
<text x="665.60" y="105.76" font-size="5.06" fill="#2ca02c" stroke="#2ca02c" stroke-width="0.12" text-anchor="middle" textLength="5.85" lengthAdjust="spacingAndGlyphs">11</text>
<text x="671.10" y="109.06" font-size="5.06" fill="#d62728" stroke="#d62728" stroke-width="0.12" text-anchor="middle" textLength="5.85" lengthAdjust="spacingAndGlyphs">11</text>
<text x="673.80" y="108.66" font-size="5.06" fill="#1f77b4" stroke="#1f77b4" stroke-width="0.12" text-anchor="middle" textLength="5.85" lengthAdjust="spacingAndGlyphs">11</text>
<text x="676.20" y="107.66" font-size="5.06" fill="#1f77b4" stroke="#1f77b4" stroke-width="0.12" text-anchor="middle" textLength="5.85" lengthAdjust="spacingAndGlyphs">11</text>
<text x="674.80" y="113.76" font-size="5.06" fill="#ff7f0e" stroke="#ff7f0e" stroke-width="0.12" text-anchor="middle" textLength="5.85" lengthAdjust="spacingAndGlyphs">11</text>
<text x="620.80" y="121.67" font-size="6.93" fill="#d62728" stroke="#d62728" stroke-width="0.12" text-anchor="middle">8</text>
<text x="621.50" y="123.27" font-size="6.93" fill="#d62728" stroke="#d62728" stroke-width="0.12" text-anchor="middle">8</text>
<text x="627.30" y="125.77" font-size="6.93" fill="#1f77b4" stroke="#1f77b4" stroke-width="0.12" text-anchor="middle">8</text>
<text x="629.50" y="125.77" font-size="6.93" fill="#1f77b4" stroke="#1f77b4" stroke-width="0.12" text-anchor="middle">8</text>
<text x="634.60" y="128.97" font-size="6.93" fill="#1f77b4" stroke="#1f77b4" stroke-width="0.12" text-anchor="middle">8</text>
<text x="617.10" y="127.57" font-size="6.93" fill="#1f77b4" stroke="#1f77b4" stroke-width="0.12" text-anchor="middle">8</text>
<text x="620.00" y="127.57" font-size="6.93" fill="#1f77b4" stroke="#1f77b4" stroke-width="0.12" text-anchor="middle">8</text>
<text x="620.80" y="130.47" font-size="6.93" fill="#ff7f0e" stroke="#ff7f0e" stroke-width="0.12" text-anchor="middle">8</text>
<text x="624.40" y="134.07" font-size="6.93" fill="#2ca02c" stroke="#2ca02c" stroke-width="0.12" text-anchor="middle">8</text>
<text x="591.60" y="145.16" font-size="5.06" fill="#1f77b4" stroke="#1f77b4" stroke-width="0.12" text-anchor="middle" textLength="5.85" lengthAdjust="spacingAndGlyphs">16</text>
<text x="591.60" y="147.66" font-size="5.06" fill="#ff7f0e" stroke="#ff7f0e" stroke-width="0.12" text-anchor="middle" textLength="5.85" lengthAdjust="spacingAndGlyphs">16</text>
<text x="590.10" y="150.26" font-size="5.06" fill="#2ca02c" stroke="#2ca02c" stroke-width="0.12" text-anchor="middle" textLength="5.85" lengthAdjust="spacingAndGlyphs">16</text>
<text x="590.10" y="153.16" font-size="5.06" fill="#2ca02c" stroke="#2ca02c" stroke-width="0.12" text-anchor="middle" textLength="5.85" lengthAdjust="spacingAndGlyphs">16</text>
<text x="596.70" y="152.46" font-size="5.06" fill="#2ca02c" stroke="#2ca02c" stroke-width="0.12" text-anchor="middle" textLength="5.85" lengthAdjust="spacingAndGlyphs">16</text>
<rect x="489.60" y="18.50" width="194.90" height="139.10" fill="none" stroke="#4a4a4a" stroke-width="1.0"/>
<text x="489.90" y="15.00" font-size="11.80" fill="#111" stroke="#111" stroke-width="0.12" textLength="18.34" lengthAdjust="spacingAndGlyphs">C.1</text>
<text x="587.40" y="15.40" font-size="6.57" fill="#111" stroke="#111" stroke-width="0.12" text-anchor="middle" textLength="129.95" lengthAdjust="spacingAndGlyphs">t-SNE of Uncorrected Dataset by Krug et al.</text>
<text x="586.50" y="164.60" font-size="6.57" fill="#111" stroke="#111" stroke-width="0.12" text-anchor="middle" textLength="22.22" lengthAdjust="spacingAndGlyphs">t-SNE 0</text>
<text x="485.80" y="87.50" font-size="6.57" fill="#111" stroke="#111" stroke-width="0.12" text-anchor="middle" transform="rotate(-90 485.80 87.50)" textLength="22.22" lengthAdjust="spacingAndGlyphs">t-SNE 1</text>
<rect x="27.80" y="343.33" width="5.25" height="6.97" fill="#e1812c"/>
<rect x="33.00" y="343.91" width="5.25" height="6.39" fill="#3274a1"/>
<rect x="38.20" y="313.14" width="5.25" height="37.16" fill="#c03d3e"/>
<rect x="43.40" y="316.63" width="5.25" height="33.67" fill="#3a923a"/>
<rect x="48.60" y="330.56" width="5.25" height="19.74" fill="#7f7f7f"/>
<rect x="53.80" y="333.46" width="5.25" height="16.84" fill="#d684bd"/>
<rect x="66.70" y="343.04" width="5.25" height="7.26" fill="#e1812c"/>
<rect x="71.90" y="343.33" width="5.25" height="6.97" fill="#3274a1"/>
<rect x="77.10" y="298.05" width="5.25" height="52.25" fill="#c03d3e"/>
<rect x="82.30" y="304.43" width="5.25" height="45.87" fill="#3a923a"/>
<rect x="87.50" y="315.17" width="5.25" height="35.13" fill="#7f7f7f"/>
<rect x="92.70" y="316.92" width="5.25" height="33.38" fill="#d684bd"/>
<rect x="105.60" y="327.08" width="5.25" height="23.22" fill="#e1812c"/>
<rect x="110.80" y="329.69" width="5.25" height="20.61" fill="#3274a1"/>
<rect x="116.00" y="217.34" width="5.25" height="132.96" fill="#c03d3e"/>
<rect x="121.20" y="230.12" width="5.25" height="120.18" fill="#3a923a"/>
<rect x="126.40" y="254.50" width="5.25" height="95.80" fill="#7f7f7f"/>
<rect x="131.60" y="256.24" width="5.25" height="94.06" fill="#d684bd"/>
<rect x="144.50" y="350.21" width="5.25" height="0.09" fill="#e1812c"/>
<rect x="149.70" y="350.21" width="5.25" height="0.09" fill="#3274a1"/>
<rect x="154.90" y="350.21" width="5.25" height="0.09" fill="#c03d3e"/>
<rect x="160.10" y="350.21" width="5.25" height="0.09" fill="#3a923a"/>
<rect x="165.30" y="350.21" width="5.25" height="0.09" fill="#7f7f7f"/>
<rect x="170.50" y="350.21" width="5.25" height="0.09" fill="#d684bd"/>
<rect x="183.60" y="347.40" width="5.25" height="2.90" fill="#e1812c"/>
<rect x="188.80" y="348.56" width="5.25" height="1.74" fill="#3274a1"/>
<rect x="194.00" y="334.33" width="5.25" height="15.97" fill="#c03d3e"/>
<rect x="199.20" y="332.30" width="5.25" height="18.00" fill="#3a923a"/>
<rect x="204.40" y="334.91" width="5.25" height="15.39" fill="#7f7f7f"/>
<rect x="209.60" y="335.20" width="5.25" height="15.10" fill="#d684bd"/>
<rect x="23.50" y="210.80" width="195.10" height="139.50" fill="none" stroke="#4a4a4a" stroke-width="1.0"/>
<line x1="21.30" y1="350.30" x2="23.50" y2="350.30" stroke="#4a4a4a" stroke-width="0.8"/>
<text x="20.00" y="353.00" font-size="6.57" fill="#111" stroke="#111" stroke-width="0.12" text-anchor="end">0</text>
<line x1="21.30" y1="321.27" x2="23.50" y2="321.27" stroke="#4a4a4a" stroke-width="0.8"/>
<text x="20.00" y="323.97" font-size="6.57" fill="#111" stroke="#111" stroke-width="0.12" text-anchor="end" textLength="11.39" lengthAdjust="spacingAndGlyphs">100</text>
<line x1="21.30" y1="292.24" x2="23.50" y2="292.24" stroke="#4a4a4a" stroke-width="0.8"/>
<text x="20.00" y="294.94" font-size="6.57" fill="#111" stroke="#111" stroke-width="0.12" text-anchor="end" textLength="11.39" lengthAdjust="spacingAndGlyphs">200</text>
<line x1="21.30" y1="263.21" x2="23.50" y2="263.21" stroke="#4a4a4a" stroke-width="0.8"/>
<text x="20.00" y="265.91" font-size="6.57" fill="#111" stroke="#111" stroke-width="0.12" text-anchor="end" textLength="11.39" lengthAdjust="spacingAndGlyphs">300</text>
<line x1="21.30" y1="234.18" x2="23.50" y2="234.18" stroke="#4a4a4a" stroke-width="0.8"/>
<text x="20.00" y="236.88" font-size="6.57" fill="#111" stroke="#111" stroke-width="0.12" text-anchor="end" textLength="11.39" lengthAdjust="spacingAndGlyphs">400</text>
<line x1="43.40" y1="350.30" x2="43.40" y2="352.50" stroke="#4a4a4a" stroke-width="0.8"/>
<text x="43.40" y="359.10" font-size="6.57" fill="#111" stroke="#111" stroke-width="0.12" text-anchor="middle" textLength="13.94" lengthAdjust="spacingAndGlyphs">Krug</text>
<line x1="82.30" y1="350.30" x2="82.30" y2="352.50" stroke="#4a4a4a" stroke-width="0.8"/>
<text x="82.30" y="359.10" font-size="6.57" fill="#111" stroke="#111" stroke-width="0.12" text-anchor="middle" textLength="22.49" lengthAdjust="spacingAndGlyphs">Petralia</text>
<line x1="121.20" y1="350.30" x2="121.20" y2="352.50" stroke="#4a4a4a" stroke-width="0.8"/>
<text x="121.20" y="359.10" font-size="6.57" fill="#111" stroke="#111" stroke-width="0.12" text-anchor="middle" textLength="25.34" lengthAdjust="spacingAndGlyphs">Nusinow</text>
<line x1="160.10" y1="350.30" x2="160.10" y2="352.50" stroke="#4a4a4a" stroke-width="0.8"/>
<text x="160.10" y="359.10" font-size="6.57" fill="#111" stroke="#111" stroke-width="0.12" text-anchor="middle" textLength="13.49" lengthAdjust="spacingAndGlyphs">Voss</text>
<line x1="199.20" y1="350.30" x2="199.20" y2="352.50" stroke="#4a4a4a" stroke-width="0.8"/>
<text x="199.20" y="359.10" font-size="6.57" fill="#111" stroke="#111" stroke-width="0.12" text-anchor="middle" textLength="23.45" lengthAdjust="spacingAndGlyphs">Ovarian</text>
<text x="121.20" y="367.50" font-size="6.57" fill="#111" stroke="#111" stroke-width="0.12" text-anchor="middle" textLength="23.38" lengthAdjust="spacingAndGlyphs">Dataset</text>
<text x="6.00" y="280.50" font-size="6.57" fill="#111" stroke="#111" stroke-width="0.12" text-anchor="middle" transform="rotate(-90 6.00 280.50)" textLength="74.30" lengthAdjust="spacingAndGlyphs">Seq. Runtime in Seconds</text>
<text x="24.20" y="206.80" font-size="11.80" fill="#111" stroke="#111" stroke-width="0.12" textLength="18.21" lengthAdjust="spacingAndGlyphs">B.2</text>
<text x="121.10" y="207.20" font-size="6.57" fill="#111" stroke="#111" stroke-width="0.12" text-anchor="middle" textLength="95.73" lengthAdjust="spacingAndGlyphs">Sequential Runtime per Dataset</text>
<polyline points="263.20,258.81 282.86,294.92 302.52,306.96 322.18,312.83 341.84,317.23 361.50,319.87 381.16,321.34 400.82,321.93 420.48,323.69 440.14,324.28" fill="none" stroke="#7f7f7f" stroke-width="1.15" stroke-linejoin="round" stroke-linecap="butt"/>
<polyline points="263.20,259.69 282.86,295.80 302.52,307.54 322.18,313.42 341.84,317.82 361.50,320.17 381.16,321.64 400.82,322.22 420.48,323.98 440.14,324.57" fill="none" stroke="#e377c2" stroke-width="1.15" stroke-linejoin="round" stroke-linecap="butt"/>
<polyline points="263.20,330.74 282.86,339.25 302.52,341.60 322.18,341.89 341.84,341.60 361.50,341.89 381.16,341.89 400.82,341.89 420.48,341.60 440.14,341.89" fill="none" stroke="#ff7f0e" stroke-width="1.15" stroke-linejoin="round" stroke-linecap="butt"/>
<polyline points="263.20,334.26 282.86,340.72 302.52,341.89 322.18,342.78 341.84,342.78 361.50,342.78 381.16,342.78 400.82,342.78 420.48,342.78 440.14,342.78" fill="none" stroke="#1f77b4" stroke-width="1.15" stroke-linejoin="round" stroke-linecap="butt"/>
<polyline points="263.20,231.79 282.86,241.48 302.52,245.59 322.18,247.94 341.84,249.12 361.50,249.41 381.16,250.29 400.82,250.29 420.48,250.88 440.14,251.17" fill="none" stroke="#2ca02c" stroke-width="1.15" stroke-linejoin="round" stroke-linecap="butt"/>
<polyline points="263.20,220.64 282.86,234.44 302.52,240.90 322.18,244.42 341.84,246.18 361.50,246.77 381.16,246.77 400.82,247.94 420.48,248.24 440.14,248.82" fill="none" stroke="#d62728" stroke-width="1.15" stroke-linejoin="round" stroke-linecap="butt"/>
<line x1="263.20" y1="256.81" x2="263.20" y2="260.81" stroke="#151515" stroke-width="1.0"/>
<line x1="261.45" y1="256.81" x2="264.95" y2="256.81" stroke="#151515" stroke-width="1.0"/>
<line x1="261.45" y1="260.81" x2="264.95" y2="260.81" stroke="#151515" stroke-width="1.0"/>
<line x1="282.86" y1="293.52" x2="282.86" y2="296.32" stroke="#151515" stroke-width="1.0"/>
<line x1="281.11" y1="293.52" x2="284.61" y2="293.52" stroke="#151515" stroke-width="1.0"/>
<line x1="281.11" y1="296.32" x2="284.61" y2="296.32" stroke="#151515" stroke-width="1.0"/>
<rect x="300.77" y="306.01" width="3.50" height="1.90" fill="#3a3a3a" fill-opacity="0.85"/>
<rect x="320.43" y="311.88" width="3.50" height="1.90" fill="#3a3a3a" fill-opacity="0.85"/>
<rect x="340.09" y="316.38" width="3.50" height="1.70" fill="#3a3a3a" fill-opacity="0.85"/>
<rect x="359.75" y="319.12" width="3.50" height="1.50" fill="#3a3a3a" fill-opacity="0.85"/>
<rect x="379.41" y="320.59" width="3.50" height="1.50" fill="#3a3a3a" fill-opacity="0.85"/>
<rect x="399.07" y="321.18" width="3.50" height="1.50" fill="#3a3a3a" fill-opacity="0.85"/>
<rect x="418.73" y="322.94" width="3.50" height="1.50" fill="#3a3a3a" fill-opacity="0.85"/>
<rect x="438.39" y="323.53" width="3.50" height="1.50" fill="#3a3a3a" fill-opacity="0.85"/>
<line x1="263.20" y1="257.89" x2="263.20" y2="261.49" stroke="#151515" stroke-width="1.0"/>
<line x1="261.45" y1="257.89" x2="264.95" y2="257.89" stroke="#151515" stroke-width="1.0"/>
<line x1="261.45" y1="261.49" x2="264.95" y2="261.49" stroke="#151515" stroke-width="1.0"/>
<line x1="282.86" y1="294.60" x2="282.86" y2="297.00" stroke="#151515" stroke-width="1.0"/>
<line x1="281.11" y1="294.60" x2="284.61" y2="294.60" stroke="#151515" stroke-width="1.0"/>
<line x1="281.11" y1="297.00" x2="284.61" y2="297.00" stroke="#151515" stroke-width="1.0"/>
<rect x="300.77" y="306.69" width="3.50" height="1.70" fill="#3a3a3a" fill-opacity="0.85"/>
<rect x="320.43" y="312.57" width="3.50" height="1.70" fill="#3a3a3a" fill-opacity="0.85"/>
<rect x="340.09" y="317.07" width="3.50" height="1.50" fill="#3a3a3a" fill-opacity="0.85"/>
<rect x="359.75" y="319.42" width="3.50" height="1.50" fill="#3a3a3a" fill-opacity="0.85"/>
<rect x="379.41" y="320.89" width="3.50" height="1.50" fill="#3a3a3a" fill-opacity="0.85"/>
<rect x="399.07" y="321.47" width="3.50" height="1.50" fill="#3a3a3a" fill-opacity="0.85"/>
<rect x="418.73" y="323.23" width="3.50" height="1.50" fill="#3a3a3a" fill-opacity="0.85"/>
<rect x="438.39" y="323.82" width="3.50" height="1.50" fill="#3a3a3a" fill-opacity="0.85"/>
<rect x="261.45" y="329.99" width="3.50" height="1.50" fill="#3a3a3a" fill-opacity="0.85"/>
<rect x="281.11" y="338.50" width="3.50" height="1.50" fill="#3a3a3a" fill-opacity="0.85"/>
<rect x="300.77" y="340.85" width="3.50" height="1.50" fill="#3a3a3a" fill-opacity="0.85"/>
<rect x="320.43" y="341.14" width="3.50" height="1.50" fill="#3a3a3a" fill-opacity="0.85"/>
<rect x="340.09" y="340.85" width="3.50" height="1.50" fill="#3a3a3a" fill-opacity="0.85"/>
<rect x="359.75" y="341.14" width="3.50" height="1.50" fill="#3a3a3a" fill-opacity="0.85"/>
<rect x="379.41" y="341.14" width="3.50" height="1.50" fill="#3a3a3a" fill-opacity="0.85"/>
<rect x="399.07" y="341.14" width="3.50" height="1.50" fill="#3a3a3a" fill-opacity="0.85"/>
<rect x="418.73" y="340.85" width="3.50" height="1.50" fill="#3a3a3a" fill-opacity="0.85"/>
<rect x="438.39" y="341.14" width="3.50" height="1.50" fill="#3a3a3a" fill-opacity="0.85"/>
<rect x="261.45" y="333.51" width="3.50" height="1.50" fill="#3a3a3a" fill-opacity="0.85"/>
<rect x="281.11" y="339.97" width="3.50" height="1.50" fill="#3a3a3a" fill-opacity="0.85"/>
<rect x="300.77" y="341.14" width="3.50" height="1.50" fill="#3a3a3a" fill-opacity="0.85"/>
<rect x="320.43" y="342.03" width="3.50" height="1.50" fill="#3a3a3a" fill-opacity="0.85"/>
<rect x="340.09" y="342.03" width="3.50" height="1.50" fill="#3a3a3a" fill-opacity="0.85"/>
<rect x="359.75" y="342.03" width="3.50" height="1.50" fill="#3a3a3a" fill-opacity="0.85"/>
<rect x="379.41" y="342.03" width="3.50" height="1.50" fill="#3a3a3a" fill-opacity="0.85"/>
<rect x="399.07" y="342.03" width="3.50" height="1.50" fill="#3a3a3a" fill-opacity="0.85"/>
<rect x="418.73" y="342.03" width="3.50" height="1.50" fill="#3a3a3a" fill-opacity="0.85"/>
<rect x="438.39" y="342.03" width="3.50" height="1.50" fill="#3a3a3a" fill-opacity="0.85"/>
<line x1="263.20" y1="230.09" x2="263.20" y2="233.49" stroke="#151515" stroke-width="1.0"/>
<line x1="261.45" y1="230.09" x2="264.95" y2="230.09" stroke="#151515" stroke-width="1.0"/>
<line x1="261.45" y1="233.49" x2="264.95" y2="233.49" stroke="#151515" stroke-width="1.0"/>
<line x1="282.86" y1="239.98" x2="282.86" y2="242.98" stroke="#151515" stroke-width="1.0"/>
<line x1="281.11" y1="239.98" x2="284.61" y2="239.98" stroke="#151515" stroke-width="1.0"/>
<line x1="281.11" y1="242.98" x2="284.61" y2="242.98" stroke="#151515" stroke-width="1.0"/>
<line x1="302.52" y1="243.89" x2="302.52" y2="247.29" stroke="#151515" stroke-width="1.0"/>
<line x1="300.77" y1="243.89" x2="304.27" y2="243.89" stroke="#151515" stroke-width="1.0"/>
<line x1="300.77" y1="247.29" x2="304.27" y2="247.29" stroke="#151515" stroke-width="1.0"/>
<line x1="322.18" y1="246.14" x2="322.18" y2="249.74" stroke="#151515" stroke-width="1.0"/>
<line x1="320.43" y1="246.14" x2="323.93" y2="246.14" stroke="#151515" stroke-width="1.0"/>
<line x1="320.43" y1="249.74" x2="323.93" y2="249.74" stroke="#151515" stroke-width="1.0"/>
<line x1="341.84" y1="247.52" x2="341.84" y2="250.72" stroke="#151515" stroke-width="1.0"/>
<line x1="340.09" y1="247.52" x2="343.59" y2="247.52" stroke="#151515" stroke-width="1.0"/>
<line x1="340.09" y1="250.72" x2="343.59" y2="250.72" stroke="#151515" stroke-width="1.0"/>
<line x1="361.50" y1="247.81" x2="361.50" y2="251.01" stroke="#151515" stroke-width="1.0"/>
<line x1="359.75" y1="247.81" x2="363.25" y2="247.81" stroke="#151515" stroke-width="1.0"/>
<line x1="359.75" y1="251.01" x2="363.25" y2="251.01" stroke="#151515" stroke-width="1.0"/>
<line x1="381.16" y1="248.49" x2="381.16" y2="252.09" stroke="#151515" stroke-width="1.0"/>
<line x1="379.41" y1="248.49" x2="382.91" y2="248.49" stroke="#151515" stroke-width="1.0"/>
<line x1="379.41" y1="252.09" x2="382.91" y2="252.09" stroke="#151515" stroke-width="1.0"/>
<line x1="400.82" y1="248.69" x2="400.82" y2="251.89" stroke="#151515" stroke-width="1.0"/>
<line x1="399.07" y1="248.69" x2="402.57" y2="248.69" stroke="#151515" stroke-width="1.0"/>
<line x1="399.07" y1="251.89" x2="402.57" y2="251.89" stroke="#151515" stroke-width="1.0"/>
<line x1="420.48" y1="249.28" x2="420.48" y2="252.48" stroke="#151515" stroke-width="1.0"/>
<line x1="418.73" y1="249.28" x2="422.23" y2="249.28" stroke="#151515" stroke-width="1.0"/>
<line x1="418.73" y1="252.48" x2="422.23" y2="252.48" stroke="#151515" stroke-width="1.0"/>
<line x1="440.14" y1="249.37" x2="440.14" y2="252.97" stroke="#151515" stroke-width="1.0"/>
<line x1="438.39" y1="249.37" x2="441.89" y2="249.37" stroke="#151515" stroke-width="1.0"/>
<line x1="438.39" y1="252.97" x2="441.89" y2="252.97" stroke="#151515" stroke-width="1.0"/>
<line x1="263.20" y1="217.14" x2="263.20" y2="224.14" stroke="#151515" stroke-width="1.0"/>
<line x1="261.45" y1="217.14" x2="264.95" y2="217.14" stroke="#151515" stroke-width="1.0"/>
<line x1="261.45" y1="224.14" x2="264.95" y2="224.14" stroke="#151515" stroke-width="1.0"/>
<line x1="282.86" y1="231.94" x2="282.86" y2="236.94" stroke="#151515" stroke-width="1.0"/>
<line x1="281.11" y1="231.94" x2="284.61" y2="231.94" stroke="#151515" stroke-width="1.0"/>
<line x1="281.11" y1="236.94" x2="284.61" y2="236.94" stroke="#151515" stroke-width="1.0"/>
<line x1="302.52" y1="237.90" x2="302.52" y2="243.90" stroke="#151515" stroke-width="1.0"/>
<line x1="300.77" y1="237.90" x2="304.27" y2="237.90" stroke="#151515" stroke-width="1.0"/>
<line x1="300.77" y1="243.90" x2="304.27" y2="243.90" stroke="#151515" stroke-width="1.0"/>
<line x1="322.18" y1="242.42" x2="322.18" y2="246.42" stroke="#151515" stroke-width="1.0"/>
<line x1="320.43" y1="242.42" x2="323.93" y2="242.42" stroke="#151515" stroke-width="1.0"/>
<line x1="320.43" y1="246.42" x2="323.93" y2="246.42" stroke="#151515" stroke-width="1.0"/>
<line x1="341.84" y1="244.18" x2="341.84" y2="248.18" stroke="#151515" stroke-width="1.0"/>
<line x1="340.09" y1="244.18" x2="343.59" y2="244.18" stroke="#151515" stroke-width="1.0"/>
<line x1="340.09" y1="248.18" x2="343.59" y2="248.18" stroke="#151515" stroke-width="1.0"/>
<line x1="361.50" y1="244.77" x2="361.50" y2="248.77" stroke="#151515" stroke-width="1.0"/>
<line x1="359.75" y1="244.77" x2="363.25" y2="244.77" stroke="#151515" stroke-width="1.0"/>
<line x1="359.75" y1="248.77" x2="363.25" y2="248.77" stroke="#151515" stroke-width="1.0"/>
<line x1="381.16" y1="243.77" x2="381.16" y2="249.77" stroke="#151515" stroke-width="1.0"/>
<line x1="379.41" y1="243.77" x2="382.91" y2="243.77" stroke="#151515" stroke-width="1.0"/>
<line x1="379.41" y1="249.77" x2="382.91" y2="249.77" stroke="#151515" stroke-width="1.0"/>
<line x1="400.82" y1="245.94" x2="400.82" y2="249.94" stroke="#151515" stroke-width="1.0"/>
<line x1="399.07" y1="245.94" x2="402.57" y2="245.94" stroke="#151515" stroke-width="1.0"/>
<line x1="399.07" y1="249.94" x2="402.57" y2="249.94" stroke="#151515" stroke-width="1.0"/>
<line x1="420.48" y1="246.24" x2="420.48" y2="250.24" stroke="#151515" stroke-width="1.0"/>
<line x1="418.73" y1="246.24" x2="422.23" y2="246.24" stroke="#151515" stroke-width="1.0"/>
<line x1="418.73" y1="250.24" x2="422.23" y2="250.24" stroke="#151515" stroke-width="1.0"/>
<line x1="440.14" y1="246.32" x2="440.14" y2="251.32" stroke="#151515" stroke-width="1.0"/>
<line x1="438.39" y1="246.32" x2="441.89" y2="246.32" stroke="#151515" stroke-width="1.0"/>
<line x1="438.39" y1="251.32" x2="441.89" y2="251.32" stroke="#151515" stroke-width="1.0"/>
<rect x="253.00" y="210.80" width="195.70" height="139.50" fill="none" stroke="#4a4a4a" stroke-width="1.0"/>
<line x1="250.80" y1="326.04" x2="253.00" y2="326.04" stroke="#4a4a4a" stroke-width="0.8"/>
<text x="249.50" y="328.74" font-size="6.57" fill="#111" stroke="#111" stroke-width="0.12" text-anchor="end" textLength="11.39" lengthAdjust="spacingAndGlyphs">100</text>
<line x1="250.80" y1="296.68" x2="253.00" y2="296.68" stroke="#4a4a4a" stroke-width="0.8"/>
<text x="249.50" y="299.38" font-size="6.57" fill="#111" stroke="#111" stroke-width="0.12" text-anchor="end" textLength="11.39" lengthAdjust="spacingAndGlyphs">200</text>
<line x1="250.80" y1="267.32" x2="253.00" y2="267.32" stroke="#4a4a4a" stroke-width="0.8"/>
<text x="249.50" y="270.02" font-size="6.57" fill="#111" stroke="#111" stroke-width="0.12" text-anchor="end" textLength="11.39" lengthAdjust="spacingAndGlyphs">300</text>
<line x1="250.80" y1="237.96" x2="253.00" y2="237.96" stroke="#4a4a4a" stroke-width="0.8"/>
<text x="249.50" y="240.66" font-size="6.57" fill="#111" stroke="#111" stroke-width="0.12" text-anchor="end" textLength="11.39" lengthAdjust="spacingAndGlyphs">400</text>
<line x1="282.86" y1="350.30" x2="282.86" y2="352.50" stroke="#4a4a4a" stroke-width="0.8"/>
<text x="282.86" y="358.90" font-size="6.57" fill="#111" stroke="#111" stroke-width="0.12" text-anchor="middle">2</text>
<line x1="322.18" y1="350.30" x2="322.18" y2="352.50" stroke="#4a4a4a" stroke-width="0.8"/>
<text x="322.18" y="358.90" font-size="6.57" fill="#111" stroke="#111" stroke-width="0.12" text-anchor="middle">4</text>
<line x1="361.50" y1="350.30" x2="361.50" y2="352.50" stroke="#4a4a4a" stroke-width="0.8"/>
<text x="361.50" y="358.90" font-size="6.57" fill="#111" stroke="#111" stroke-width="0.12" text-anchor="middle">6</text>
<line x1="400.82" y1="350.30" x2="400.82" y2="352.50" stroke="#4a4a4a" stroke-width="0.8"/>
<text x="400.82" y="358.90" font-size="6.57" fill="#111" stroke="#111" stroke-width="0.12" text-anchor="middle">8</text>
<line x1="440.14" y1="350.30" x2="440.14" y2="352.50" stroke="#4a4a4a" stroke-width="0.8"/>
<text x="440.14" y="358.90" font-size="6.57" fill="#111" stroke="#111" stroke-width="0.12" text-anchor="middle" textLength="7.60" lengthAdjust="spacingAndGlyphs">10</text>
<text x="351.00" y="367.50" font-size="6.57" fill="#111" stroke="#111" stroke-width="0.12" text-anchor="middle" textLength="62.96" lengthAdjust="spacingAndGlyphs">Number of Processes</text>
<text x="234.60" y="280.60" font-size="6.57" fill="#111" stroke="#111" stroke-width="0.12" text-anchor="middle" transform="rotate(-90 234.60 280.60)" textLength="59.25" lengthAdjust="spacingAndGlyphs">Runtime in Seconds</text>
<text x="254.20" y="206.80" font-size="11.80" fill="#111" stroke="#111" stroke-width="0.12" textLength="18.21" lengthAdjust="spacingAndGlyphs">B.3</text>
<text x="351.00" y="200.70" font-size="6.57" fill="#111" stroke="#111" stroke-width="0.12" text-anchor="middle" textLength="146.26" lengthAdjust="spacingAndGlyphs">Dependency of Runtime on Number of Processes</text>
<text x="351.00" y="207.60" font-size="6.57" fill="#111" stroke="#111" stroke-width="0.12" text-anchor="middle" textLength="81.52" lengthAdjust="spacingAndGlyphs">(Dataset by Nusinow et al.)</text>
<text x="581.10" y="219.77" font-size="6.93" fill="#ff7f0e" stroke="#ff7f0e" stroke-width="0.12" text-anchor="middle">3</text>
<text x="530.30" y="228.07" font-size="6.93" fill="#ff7f0e" stroke="#ff7f0e" stroke-width="0.12" text-anchor="middle">2</text>
<text x="548.10" y="225.57" font-size="6.93" fill="#ff7f0e" stroke="#ff7f0e" stroke-width="0.12" text-anchor="middle">4</text>
<text x="570.00" y="226.67" font-size="6.93" fill="#ff7f0e" stroke="#ff7f0e" stroke-width="0.12" text-anchor="middle">9</text>
<text x="566.10" y="228.36" font-size="5.06" fill="#1f77b4" stroke="#1f77b4" stroke-width="0.12" text-anchor="middle" textLength="5.85" lengthAdjust="spacingAndGlyphs">13</text>
<text x="508.70" y="233.87" font-size="6.93" fill="#1f77b4" stroke="#1f77b4" stroke-width="0.12" text-anchor="middle">6</text>
<text x="542.70" y="235.96" font-size="5.06" fill="#1f77b4" stroke="#1f77b4" stroke-width="0.12" text-anchor="middle" textLength="5.85" lengthAdjust="spacingAndGlyphs">11</text>
<text x="549.30" y="233.37" font-size="6.93" fill="#ff7f0e" stroke="#ff7f0e" stroke-width="0.12" text-anchor="middle">5</text>
<text x="560.60" y="239.77" font-size="6.93" fill="#ff7f0e" stroke="#ff7f0e" stroke-width="0.12" text-anchor="middle">6</text>
<text x="571.50" y="240.06" font-size="5.06" fill="#ff7f0e" stroke="#ff7f0e" stroke-width="0.12" text-anchor="middle" textLength="5.85" lengthAdjust="spacingAndGlyphs">16</text>
<text x="575.90" y="241.27" font-size="6.93" fill="#ff7f0e" stroke="#ff7f0e" stroke-width="0.12" text-anchor="middle">1</text>
<text x="579.20" y="244.57" font-size="6.93" fill="#ff7f0e" stroke="#ff7f0e" stroke-width="0.12" text-anchor="middle">8</text>
<text x="585.60" y="238.27" font-size="6.93" fill="#ff7f0e" stroke="#ff7f0e" stroke-width="0.12" text-anchor="middle">5</text>
<text x="531.10" y="241.67" font-size="6.93" fill="#1f77b4" stroke="#1f77b4" stroke-width="0.12" text-anchor="middle">8</text>
<text x="548.60" y="245.46" font-size="5.06" fill="#1f77b4" stroke="#1f77b4" stroke-width="0.12" text-anchor="middle" textLength="5.85" lengthAdjust="spacingAndGlyphs">12</text>
<text x="531.40" y="248.67" font-size="6.93" fill="#1f77b4" stroke="#1f77b4" stroke-width="0.12" text-anchor="middle">5</text>
<text x="563.20" y="249.67" font-size="6.93" fill="#ff7f0e" stroke="#ff7f0e" stroke-width="0.12" text-anchor="middle">7</text>
<text x="547.60" y="252.87" font-size="6.93" fill="#1f77b4" stroke="#1f77b4" stroke-width="0.12" text-anchor="middle">6</text>
<text x="552.00" y="251.96" font-size="5.06" fill="#1f77b4" stroke="#1f77b4" stroke-width="0.12" text-anchor="middle" textLength="5.85" lengthAdjust="spacingAndGlyphs">17</text>
<text x="567.10" y="253.76" font-size="5.06" fill="#1f77b4" stroke="#1f77b4" stroke-width="0.12" text-anchor="middle" textLength="5.85" lengthAdjust="spacingAndGlyphs">10</text>
<text x="579.70" y="256.27" font-size="6.93" fill="#1f77b4" stroke="#1f77b4" stroke-width="0.12" text-anchor="middle">7</text>
<text x="578.80" y="258.56" font-size="5.06" fill="#ff7f0e" stroke="#ff7f0e" stroke-width="0.12" text-anchor="middle" textLength="5.85" lengthAdjust="spacingAndGlyphs">13</text>
<text x="521.90" y="253.77" font-size="6.93" fill="#1f77b4" stroke="#1f77b4" stroke-width="0.12" text-anchor="middle">2</text>
<text x="507.00" y="255.77" font-size="6.93" fill="#1f77b4" stroke="#1f77b4" stroke-width="0.12" text-anchor="middle">9</text>
<text x="498.20" y="258.77" font-size="6.93" fill="#d62728" stroke="#d62728" stroke-width="0.12" text-anchor="middle">1</text>
<text x="522.30" y="261.07" font-size="6.93" fill="#1f77b4" stroke="#1f77b4" stroke-width="0.12" text-anchor="middle">3</text>
<text x="524.00" y="258.27" font-size="6.93" fill="#1f77b4" stroke="#1f77b4" stroke-width="0.12" text-anchor="middle">8</text>
<text x="527.10" y="261.46" font-size="5.06" fill="#1f77b4" stroke="#1f77b4" stroke-width="0.12" text-anchor="middle" textLength="5.85" lengthAdjust="spacingAndGlyphs">12</text>
<text x="552.20" y="259.87" font-size="6.93" fill="#1f77b4" stroke="#1f77b4" stroke-width="0.12" text-anchor="middle">3</text>
<text x="565.70" y="262.26" font-size="5.06" fill="#1f77b4" stroke="#1f77b4" stroke-width="0.12" text-anchor="middle" textLength="5.85" lengthAdjust="spacingAndGlyphs">16</text>
<text x="583.60" y="268.67" font-size="6.93" fill="#d62728" stroke="#d62728" stroke-width="0.12" text-anchor="middle">2</text>
<text x="533.00" y="269.56" font-size="5.06" fill="#ff7f0e" stroke="#ff7f0e" stroke-width="0.12" text-anchor="middle" textLength="5.85" lengthAdjust="spacingAndGlyphs">10</text>
<text x="542.30" y="271.66" font-size="5.06" fill="#1f77b4" stroke="#1f77b4" stroke-width="0.12" text-anchor="middle" textLength="5.85" lengthAdjust="spacingAndGlyphs">17</text>
<text x="555.20" y="273.07" font-size="6.93" fill="#1f77b4" stroke="#1f77b4" stroke-width="0.12" text-anchor="middle">5</text>
<text x="558.50" y="271.27" font-size="6.93" fill="#1f77b4" stroke="#1f77b4" stroke-width="0.12" text-anchor="middle">2</text>
<text x="570.90" y="272.46" font-size="5.06" fill="#1f77b4" stroke="#1f77b4" stroke-width="0.12" text-anchor="middle" textLength="5.85" lengthAdjust="spacingAndGlyphs">13</text>
<text x="568.50" y="276.77" font-size="6.93" fill="#1f77b4" stroke="#1f77b4" stroke-width="0.12" text-anchor="middle">3</text>
<text x="571.50" y="276.77" font-size="6.93" fill="#1f77b4" stroke="#1f77b4" stroke-width="0.12" text-anchor="middle">4</text>
<text x="501.10" y="275.97" font-size="6.93" fill="#1f77b4" stroke="#1f77b4" stroke-width="0.12" text-anchor="middle">1</text>
<text x="548.60" y="278.87" font-size="6.93" fill="#1f77b4" stroke="#1f77b4" stroke-width="0.12" text-anchor="middle">4</text>
<text x="531.50" y="279.07" font-size="6.93" fill="#1f77b4" stroke="#1f77b4" stroke-width="0.12" text-anchor="middle">9</text>
<text x="544.20" y="281.16" font-size="5.06" fill="#1f77b4" stroke="#1f77b4" stroke-width="0.12" text-anchor="middle" textLength="5.85" lengthAdjust="spacingAndGlyphs">11</text>
<text x="586.80" y="274.86" font-size="5.06" fill="#1f77b4" stroke="#1f77b4" stroke-width="0.12" text-anchor="middle" textLength="5.85" lengthAdjust="spacingAndGlyphs">10</text>
<text x="594.50" y="237.27" font-size="6.93" fill="#ff7f0e" stroke="#ff7f0e" stroke-width="0.12" text-anchor="middle">4</text>
<text x="627.00" y="240.97" font-size="6.93" fill="#1f77b4" stroke="#1f77b4" stroke-width="0.12" text-anchor="middle">4</text>
<text x="624.70" y="243.07" font-size="6.93" fill="#1f77b4" stroke="#1f77b4" stroke-width="0.12" text-anchor="middle">7</text>
<text x="623.70" y="246.77" font-size="6.93" fill="#1f77b4" stroke="#1f77b4" stroke-width="0.12" text-anchor="middle">4</text>
<text x="608.10" y="255.77" font-size="6.93" fill="#ff7f0e" stroke="#ff7f0e" stroke-width="0.12" text-anchor="middle">1</text>
<text x="605.40" y="264.86" font-size="5.06" fill="#ff7f0e" stroke="#ff7f0e" stroke-width="0.12" text-anchor="middle" textLength="5.85" lengthAdjust="spacingAndGlyphs">11</text>
<text x="596.00" y="270.26" font-size="5.06" fill="#ff7f0e" stroke="#ff7f0e" stroke-width="0.12" text-anchor="middle" textLength="5.85" lengthAdjust="spacingAndGlyphs">12</text>
<text x="635.40" y="276.86" font-size="5.06" fill="#2ca02c" stroke="#2ca02c" stroke-width="0.12" text-anchor="middle" textLength="5.85" lengthAdjust="spacingAndGlyphs">13</text>
<text x="667.00" y="278.26" font-size="5.06" fill="#2ca02c" stroke="#2ca02c" stroke-width="0.12" text-anchor="middle" textLength="5.85" lengthAdjust="spacingAndGlyphs">10</text>
<text x="531.80" y="283.07" font-size="6.93" fill="#1f77b4" stroke="#1f77b4" stroke-width="0.12" text-anchor="middle">6</text>
<text x="510.20" y="285.16" font-size="5.06" fill="#1f77b4" stroke="#1f77b4" stroke-width="0.12" text-anchor="middle" textLength="5.85" lengthAdjust="spacingAndGlyphs">16</text>
<text x="521.60" y="286.77" font-size="6.93" fill="#1f77b4" stroke="#1f77b4" stroke-width="0.12" text-anchor="middle">1</text>
<text x="526.20" y="290.06" font-size="5.06" fill="#1f77b4" stroke="#1f77b4" stroke-width="0.12" text-anchor="middle" textLength="5.85" lengthAdjust="spacingAndGlyphs">13</text>
<text x="549.00" y="287.66" font-size="5.06" fill="#1f77b4" stroke="#1f77b4" stroke-width="0.12" text-anchor="middle" textLength="5.85" lengthAdjust="spacingAndGlyphs">10</text>
<text x="554.40" y="289.67" font-size="6.93" fill="#1f77b4" stroke="#1f77b4" stroke-width="0.12" text-anchor="middle">3</text>
<text x="556.30" y="284.57" font-size="6.93" fill="#1f77b4" stroke="#1f77b4" stroke-width="0.12" text-anchor="middle">9</text>
<text x="570.20" y="288.67" font-size="6.93" fill="#1f77b4" stroke="#1f77b4" stroke-width="0.12" text-anchor="middle">1</text>
<text x="538.40" y="292.57" font-size="6.93" fill="#1f77b4" stroke="#1f77b4" stroke-width="0.12" text-anchor="middle">1</text>
<text x="541.70" y="295.47" font-size="6.93" fill="#1f77b4" stroke="#1f77b4" stroke-width="0.12" text-anchor="middle">2</text>
<text x="516.00" y="294.86" font-size="5.06" fill="#1f77b4" stroke="#1f77b4" stroke-width="0.12" text-anchor="middle" textLength="5.85" lengthAdjust="spacingAndGlyphs">10</text>
<text x="557.80" y="292.66" font-size="5.06" fill="#1f77b4" stroke="#1f77b4" stroke-width="0.12" text-anchor="middle" textLength="5.85" lengthAdjust="spacingAndGlyphs">16</text>
<text x="560.00" y="292.17" font-size="6.93" fill="#1f77b4" stroke="#1f77b4" stroke-width="0.12" text-anchor="middle">6</text>
<text x="552.20" y="296.97" font-size="6.93" fill="#1f77b4" stroke="#1f77b4" stroke-width="0.12" text-anchor="middle">8</text>
<text x="550.50" y="296.77" font-size="6.93" fill="#1f77b4" stroke="#1f77b4" stroke-width="0.12" text-anchor="middle">1</text>
<text x="558.40" y="300.46" font-size="5.06" fill="#1f77b4" stroke="#1f77b4" stroke-width="0.12" text-anchor="middle" textLength="5.85" lengthAdjust="spacingAndGlyphs">12</text>
<text x="523.30" y="300.26" font-size="5.06" fill="#1f77b4" stroke="#1f77b4" stroke-width="0.12" text-anchor="middle" textLength="5.85" lengthAdjust="spacingAndGlyphs">13</text>
<text x="523.00" y="304.97" font-size="6.93" fill="#1f77b4" stroke="#1f77b4" stroke-width="0.12" text-anchor="middle">8</text>
<text x="545.70" y="304.27" font-size="6.93" fill="#1f77b4" stroke="#1f77b4" stroke-width="0.12" text-anchor="middle">7</text>
<text x="510.60" y="307.67" font-size="6.93" fill="#1f77b4" stroke="#1f77b4" stroke-width="0.12" text-anchor="middle">7</text>
<text x="509.00" y="307.27" font-size="6.93" fill="#1f77b4" stroke="#1f77b4" stroke-width="0.12" text-anchor="middle">3</text>
<text x="515.30" y="312.57" font-size="6.93" fill="#1f77b4" stroke="#1f77b4" stroke-width="0.12" text-anchor="middle">6</text>
<text x="574.40" y="308.37" font-size="6.93" fill="#d62728" stroke="#d62728" stroke-width="0.12" text-anchor="middle">3</text>
<text x="582.20" y="317.06" font-size="5.06" fill="#d62728" stroke="#d62728" stroke-width="0.12" text-anchor="middle" textLength="5.85" lengthAdjust="spacingAndGlyphs">10</text>
<text x="533.30" y="322.66" font-size="5.06" fill="#1f77b4" stroke="#1f77b4" stroke-width="0.12" text-anchor="middle" textLength="5.85" lengthAdjust="spacingAndGlyphs">17</text>
<text x="567.30" y="324.67" font-size="6.93" fill="#d62728" stroke="#d62728" stroke-width="0.12" text-anchor="middle">9</text>
<text x="575.60" y="340.77" font-size="6.93" fill="#1f77b4" stroke="#1f77b4" stroke-width="0.12" text-anchor="middle">8</text>
<text x="596.40" y="288.97" font-size="6.93" fill="#d62728" stroke="#d62728" stroke-width="0.12" text-anchor="middle">4</text>
<text x="597.70" y="291.16" font-size="5.06" fill="#d62728" stroke="#d62728" stroke-width="0.12" text-anchor="middle" textLength="5.85" lengthAdjust="spacingAndGlyphs">11</text>
<text x="588.20" y="294.07" font-size="6.93" fill="#1f77b4" stroke="#1f77b4" stroke-width="0.12" text-anchor="middle">4</text>
<text x="624.10" y="290.07" font-size="6.93" fill="#d62728" stroke="#d62728" stroke-width="0.12" text-anchor="middle">6</text>
<text x="587.90" y="305.77" font-size="6.93" fill="#d62728" stroke="#d62728" stroke-width="0.12" text-anchor="middle">5</text>
<text x="590.50" y="304.27" font-size="6.93" fill="#d62728" stroke="#d62728" stroke-width="0.12" text-anchor="middle">7</text>
<text x="594.90" y="303.87" font-size="6.93" fill="#d62728" stroke="#d62728" stroke-width="0.12" text-anchor="middle">8</text>
<text x="594.00" y="306.27" font-size="6.93" fill="#d62728" stroke="#d62728" stroke-width="0.12" text-anchor="middle">8</text>
<text x="608.40" y="303.97" font-size="6.93" fill="#d62728" stroke="#d62728" stroke-width="0.12" text-anchor="middle">2</text>
<text x="642.70" y="293.86" font-size="5.06" fill="#2ca02c" stroke="#2ca02c" stroke-width="0.12" text-anchor="middle" textLength="5.85" lengthAdjust="spacingAndGlyphs">16</text>
<text x="647.00" y="291.87" font-size="6.93" fill="#2ca02c" stroke="#2ca02c" stroke-width="0.12" text-anchor="middle">1</text>
<text x="646.00" y="294.27" font-size="6.93" fill="#2ca02c" stroke="#2ca02c" stroke-width="0.12" text-anchor="middle">4</text>
<text x="649.20" y="296.97" font-size="6.93" fill="#2ca02c" stroke="#2ca02c" stroke-width="0.12" text-anchor="middle">7</text>
<text x="656.20" y="296.27" font-size="6.93" fill="#2ca02c" stroke="#2ca02c" stroke-width="0.12" text-anchor="middle">8</text>
<text x="660.20" y="290.67" font-size="6.93" fill="#2ca02c" stroke="#2ca02c" stroke-width="0.12" text-anchor="middle">5</text>
<text x="671.90" y="298.87" font-size="6.93" fill="#2ca02c" stroke="#2ca02c" stroke-width="0.12" text-anchor="middle">4</text>
<text x="675.80" y="301.37" font-size="6.93" fill="#2ca02c" stroke="#2ca02c" stroke-width="0.12" text-anchor="middle">6</text>
<text x="666.00" y="307.66" font-size="5.06" fill="#2ca02c" stroke="#2ca02c" stroke-width="0.12" text-anchor="middle" textLength="5.85" lengthAdjust="spacingAndGlyphs">16</text>
<text x="648.10" y="311.66" font-size="5.06" fill="#2ca02c" stroke="#2ca02c" stroke-width="0.12" text-anchor="middle" textLength="5.85" lengthAdjust="spacingAndGlyphs">10</text>
<text x="651.40" y="312.57" font-size="6.93" fill="#2ca02c" stroke="#2ca02c" stroke-width="0.12" text-anchor="middle">2</text>
<text x="640.20" y="318.87" font-size="6.93" fill="#2ca02c" stroke="#2ca02c" stroke-width="0.12" text-anchor="middle">6</text>
<text x="645.60" y="317.56" font-size="5.06" fill="#2ca02c" stroke="#2ca02c" stroke-width="0.12" text-anchor="middle" textLength="5.85" lengthAdjust="spacingAndGlyphs">17</text>
<text x="660.20" y="318.17" font-size="6.93" fill="#2ca02c" stroke="#2ca02c" stroke-width="0.12" text-anchor="middle">9</text>
<text x="608.40" y="320.76" font-size="5.06" fill="#2ca02c" stroke="#2ca02c" stroke-width="0.12" text-anchor="middle" textLength="5.85" lengthAdjust="spacingAndGlyphs">17</text>
<text x="603.20" y="324.86" font-size="5.06" fill="#2ca02c" stroke="#2ca02c" stroke-width="0.12" text-anchor="middle" textLength="5.85" lengthAdjust="spacingAndGlyphs">16</text>
<text x="646.30" y="324.06" font-size="5.06" fill="#2ca02c" stroke="#2ca02c" stroke-width="0.12" text-anchor="middle" textLength="5.85" lengthAdjust="spacingAndGlyphs">13</text>
<text x="640.50" y="328.07" font-size="6.93" fill="#2ca02c" stroke="#2ca02c" stroke-width="0.12" text-anchor="middle">9</text>
<text x="656.80" y="328.37" font-size="6.93" fill="#2ca02c" stroke="#2ca02c" stroke-width="0.12" text-anchor="middle">7</text>
<text x="658.50" y="326.27" font-size="6.93" fill="#2ca02c" stroke="#2ca02c" stroke-width="0.12" text-anchor="middle">8</text>
<text x="657.60" y="331.86" font-size="5.06" fill="#2ca02c" stroke="#2ca02c" stroke-width="0.12" text-anchor="middle" textLength="5.85" lengthAdjust="spacingAndGlyphs">13</text>
<text x="612.70" y="333.47" font-size="6.93" fill="#2ca02c" stroke="#2ca02c" stroke-width="0.12" text-anchor="middle">2</text>
<text x="625.10" y="331.57" font-size="6.93" fill="#d62728" stroke="#d62728" stroke-width="0.12" text-anchor="middle">1</text>
<text x="628.00" y="332.27" font-size="6.93" fill="#2ca02c" stroke="#2ca02c" stroke-width="0.12" text-anchor="middle">7</text>
<text x="594.50" y="338.26" font-size="5.06" fill="#2ca02c" stroke="#2ca02c" stroke-width="0.12" text-anchor="middle" textLength="5.85" lengthAdjust="spacingAndGlyphs">16</text>
<text x="637.60" y="339.46" font-size="5.06" fill="#2ca02c" stroke="#2ca02c" stroke-width="0.12" text-anchor="middle" textLength="5.85" lengthAdjust="spacingAndGlyphs">12</text>
<text x="653.30" y="337.96" font-size="5.06" fill="#2ca02c" stroke="#2ca02c" stroke-width="0.12" text-anchor="middle" textLength="5.85" lengthAdjust="spacingAndGlyphs">11</text>
<text x="618.60" y="345.87" font-size="6.93" fill="#2ca02c" stroke="#2ca02c" stroke-width="0.12" text-anchor="middle">5</text>
<rect x="489.60" y="210.70" width="194.90" height="139.60" fill="none" stroke="#4a4a4a" stroke-width="1.0"/>
<text x="489.60" y="207.00" font-size="11.80" fill="#111" stroke="#111" stroke-width="0.12" textLength="18.34" lengthAdjust="spacingAndGlyphs">C.2</text>
<text x="587.30" y="207.40" font-size="6.57" fill="#111" stroke="#111" stroke-width="0.12" text-anchor="middle" textLength="139.52" lengthAdjust="spacingAndGlyphs">t-SNE of BERT-Corrected Dataset by Krug et al.</text>
<text x="586.50" y="357.20" font-size="6.57" fill="#111" stroke="#111" stroke-width="0.12" text-anchor="middle" textLength="22.22" lengthAdjust="spacingAndGlyphs">t-SNE 0</text>
<text x="485.80" y="283.60" font-size="6.57" fill="#111" stroke="#111" stroke-width="0.12" text-anchor="middle" transform="rotate(-90 485.80 283.60)" textLength="22.22" lengthAdjust="spacingAndGlyphs">t-SNE 1</text>
<polyline points="32.50,519.37 57.79,517.21 83.07,515.05 108.36,512.90 133.64,510.74 158.93,507.71 184.21,504.78 209.50,503.18" fill="none" stroke="#1f77b4" stroke-width="1.15" stroke-linejoin="round" stroke-linecap="butt"/>
<polyline points="32.50,518.94 57.79,516.78 83.07,514.62 108.36,511.60 133.64,508.32 158.93,505.73 184.21,502.19 209.50,499.81" fill="none" stroke="#ff7f0e" stroke-width="1.15" stroke-linejoin="round" stroke-linecap="butt"/>
<polyline points="32.50,518.94 57.79,512.46 83.07,499.94 108.36,487.85 133.64,476.41 158.93,463.80 184.21,451.58 209.50,439.06" fill="none" stroke="#7f7f7f" stroke-width="1.15" stroke-linejoin="round" stroke-linecap="butt"/>
<polyline points="32.50,518.94 57.79,514.19 83.07,502.10 108.36,490.01 133.64,477.92 158.93,465.83 184.21,453.52 209.50,441.86" fill="none" stroke="#e377c2" stroke-width="1.15" stroke-linejoin="round" stroke-linecap="butt"/>
<polyline points="32.50,518.94 57.79,511.60 83.07,488.72 108.36,464.75 133.64,447.48 158.93,432.58 184.21,420.71 209.50,408.83" fill="none" stroke="#2ca02c" stroke-width="1.15" stroke-linejoin="round" stroke-linecap="butt"/>
<polyline points="32.50,518.94 57.79,510.74 83.07,482.80 108.36,456.76 133.64,437.89 158.93,421.79 184.21,409.26 209.50,397.61" fill="none" stroke="#d62728" stroke-width="1.15" stroke-linejoin="round" stroke-linecap="butt"/>
<rect x="30.75" y="518.62" width="3.50" height="1.50" fill="#3a3a3a" fill-opacity="0.85"/>
<rect x="56.04" y="516.46" width="3.50" height="1.50" fill="#3a3a3a" fill-opacity="0.85"/>
<rect x="81.32" y="514.30" width="3.50" height="1.50" fill="#3a3a3a" fill-opacity="0.85"/>
<rect x="106.61" y="512.15" width="3.50" height="1.50" fill="#3a3a3a" fill-opacity="0.85"/>
<rect x="131.89" y="509.99" width="3.50" height="1.50" fill="#3a3a3a" fill-opacity="0.85"/>
<rect x="157.18" y="506.96" width="3.50" height="1.50" fill="#3a3a3a" fill-opacity="0.85"/>
<rect x="182.46" y="504.03" width="3.50" height="1.50" fill="#3a3a3a" fill-opacity="0.85"/>
<rect x="207.75" y="502.43" width="3.50" height="1.50" fill="#3a3a3a" fill-opacity="0.85"/>
<rect x="30.75" y="518.19" width="3.50" height="1.50" fill="#3a3a3a" fill-opacity="0.85"/>
<rect x="56.04" y="516.03" width="3.50" height="1.50" fill="#3a3a3a" fill-opacity="0.85"/>
<rect x="81.32" y="513.87" width="3.50" height="1.50" fill="#3a3a3a" fill-opacity="0.85"/>
<rect x="106.61" y="510.85" width="3.50" height="1.50" fill="#3a3a3a" fill-opacity="0.85"/>
<rect x="131.89" y="507.57" width="3.50" height="1.50" fill="#3a3a3a" fill-opacity="0.85"/>
<rect x="157.18" y="504.98" width="3.50" height="1.50" fill="#3a3a3a" fill-opacity="0.85"/>
<rect x="182.46" y="501.44" width="3.50" height="1.50" fill="#3a3a3a" fill-opacity="0.85"/>
<rect x="207.75" y="499.06" width="3.50" height="1.50" fill="#3a3a3a" fill-opacity="0.85"/>
<rect x="30.75" y="518.19" width="3.50" height="1.50" fill="#3a3a3a" fill-opacity="0.85"/>
<rect x="56.04" y="511.51" width="3.50" height="1.90" fill="#3a3a3a" fill-opacity="0.85"/>
<line x1="83.07" y1="498.74" x2="83.07" y2="501.14" stroke="#151515" stroke-width="1.0"/>
<line x1="81.32" y1="498.74" x2="84.82" y2="498.74" stroke="#151515" stroke-width="1.0"/>
<line x1="81.32" y1="501.14" x2="84.82" y2="501.14" stroke="#151515" stroke-width="1.0"/>
<line x1="108.36" y1="486.65" x2="108.36" y2="489.05" stroke="#151515" stroke-width="1.0"/>
<line x1="106.61" y1="486.65" x2="110.11" y2="486.65" stroke="#151515" stroke-width="1.0"/>
<line x1="106.61" y1="489.05" x2="110.11" y2="489.05" stroke="#151515" stroke-width="1.0"/>
<line x1="133.64" y1="475.11" x2="133.64" y2="477.71" stroke="#151515" stroke-width="1.0"/>
<line x1="131.89" y1="475.11" x2="135.39" y2="475.11" stroke="#151515" stroke-width="1.0"/>
<line x1="131.89" y1="477.71" x2="135.39" y2="477.71" stroke="#151515" stroke-width="1.0"/>
<line x1="158.93" y1="462.40" x2="158.93" y2="465.20" stroke="#151515" stroke-width="1.0"/>
<line x1="157.18" y1="462.40" x2="160.68" y2="462.40" stroke="#151515" stroke-width="1.0"/>
<line x1="157.18" y1="465.20" x2="160.68" y2="465.20" stroke="#151515" stroke-width="1.0"/>
<line x1="184.21" y1="450.08" x2="184.21" y2="453.08" stroke="#151515" stroke-width="1.0"/>
<line x1="182.46" y1="450.08" x2="185.96" y2="450.08" stroke="#151515" stroke-width="1.0"/>
<line x1="182.46" y1="453.08" x2="185.96" y2="453.08" stroke="#151515" stroke-width="1.0"/>
<line x1="209.50" y1="437.56" x2="209.50" y2="440.56" stroke="#151515" stroke-width="1.0"/>
<line x1="207.75" y1="437.56" x2="211.25" y2="437.56" stroke="#151515" stroke-width="1.0"/>
<line x1="207.75" y1="440.56" x2="211.25" y2="440.56" stroke="#151515" stroke-width="1.0"/>
<rect x="30.75" y="518.19" width="3.50" height="1.50" fill="#3a3a3a" fill-opacity="0.85"/>
<rect x="56.04" y="513.24" width="3.50" height="1.90" fill="#3a3a3a" fill-opacity="0.85"/>
<line x1="83.07" y1="501.10" x2="83.07" y2="503.10" stroke="#151515" stroke-width="1.0"/>
<line x1="81.32" y1="501.10" x2="84.82" y2="501.10" stroke="#151515" stroke-width="1.0"/>
<line x1="81.32" y1="503.10" x2="84.82" y2="503.10" stroke="#151515" stroke-width="1.0"/>
<line x1="108.36" y1="488.91" x2="108.36" y2="491.11" stroke="#151515" stroke-width="1.0"/>
<line x1="106.61" y1="488.91" x2="110.11" y2="488.91" stroke="#151515" stroke-width="1.0"/>
<line x1="106.61" y1="491.11" x2="110.11" y2="491.11" stroke="#151515" stroke-width="1.0"/>
<line x1="133.64" y1="476.72" x2="133.64" y2="479.12" stroke="#151515" stroke-width="1.0"/>
<line x1="131.89" y1="476.72" x2="135.39" y2="476.72" stroke="#151515" stroke-width="1.0"/>
<line x1="131.89" y1="479.12" x2="135.39" y2="479.12" stroke="#151515" stroke-width="1.0"/>
<line x1="158.93" y1="464.53" x2="158.93" y2="467.13" stroke="#151515" stroke-width="1.0"/>
<line x1="157.18" y1="464.53" x2="160.68" y2="464.53" stroke="#151515" stroke-width="1.0"/>
<line x1="157.18" y1="467.13" x2="160.68" y2="467.13" stroke="#151515" stroke-width="1.0"/>
<line x1="184.21" y1="452.12" x2="184.21" y2="454.92" stroke="#151515" stroke-width="1.0"/>
<line x1="182.46" y1="452.12" x2="185.96" y2="452.12" stroke="#151515" stroke-width="1.0"/>
<line x1="182.46" y1="454.92" x2="185.96" y2="454.92" stroke="#151515" stroke-width="1.0"/>
<line x1="209.50" y1="440.36" x2="209.50" y2="443.36" stroke="#151515" stroke-width="1.0"/>
<line x1="207.75" y1="440.36" x2="211.25" y2="440.36" stroke="#151515" stroke-width="1.0"/>
<line x1="207.75" y1="443.36" x2="211.25" y2="443.36" stroke="#151515" stroke-width="1.0"/>
<rect x="30.75" y="518.19" width="3.50" height="1.50" fill="#3a3a3a" fill-opacity="0.85"/>
<line x1="57.79" y1="510.40" x2="57.79" y2="512.80" stroke="#151515" stroke-width="1.0"/>
<line x1="56.04" y1="510.40" x2="59.54" y2="510.40" stroke="#151515" stroke-width="1.0"/>
<line x1="56.04" y1="512.80" x2="59.54" y2="512.80" stroke="#151515" stroke-width="1.0"/>
<line x1="83.07" y1="487.32" x2="83.07" y2="490.12" stroke="#151515" stroke-width="1.0"/>
<line x1="81.32" y1="487.32" x2="84.82" y2="487.32" stroke="#151515" stroke-width="1.0"/>
<line x1="81.32" y1="490.12" x2="84.82" y2="490.12" stroke="#151515" stroke-width="1.0"/>
<line x1="108.36" y1="463.05" x2="108.36" y2="466.45" stroke="#151515" stroke-width="1.0"/>
<line x1="106.61" y1="463.05" x2="110.11" y2="463.05" stroke="#151515" stroke-width="1.0"/>
<line x1="106.61" y1="466.45" x2="110.11" y2="466.45" stroke="#151515" stroke-width="1.0"/>
<line x1="133.64" y1="444.98" x2="133.64" y2="449.98" stroke="#151515" stroke-width="1.0"/>
<line x1="131.89" y1="444.98" x2="135.39" y2="444.98" stroke="#151515" stroke-width="1.0"/>
<line x1="131.89" y1="449.98" x2="135.39" y2="449.98" stroke="#151515" stroke-width="1.0"/>
<line x1="158.93" y1="429.08" x2="158.93" y2="436.08" stroke="#151515" stroke-width="1.0"/>
<line x1="157.18" y1="429.08" x2="160.68" y2="429.08" stroke="#151515" stroke-width="1.0"/>
<line x1="157.18" y1="436.08" x2="160.68" y2="436.08" stroke="#151515" stroke-width="1.0"/>
<line x1="184.21" y1="417.51" x2="184.21" y2="423.91" stroke="#151515" stroke-width="1.0"/>
<line x1="182.46" y1="417.51" x2="185.96" y2="417.51" stroke="#151515" stroke-width="1.0"/>
<line x1="182.46" y1="423.91" x2="185.96" y2="423.91" stroke="#151515" stroke-width="1.0"/>
<line x1="209.50" y1="405.23" x2="209.50" y2="412.43" stroke="#151515" stroke-width="1.0"/>
<line x1="207.75" y1="405.23" x2="211.25" y2="405.23" stroke="#151515" stroke-width="1.0"/>
<line x1="207.75" y1="412.43" x2="211.25" y2="412.43" stroke="#151515" stroke-width="1.0"/>
<rect x="30.75" y="518.19" width="3.50" height="1.50" fill="#3a3a3a" fill-opacity="0.85"/>
<line x1="57.79" y1="509.24" x2="57.79" y2="512.24" stroke="#151515" stroke-width="1.0"/>
<line x1="56.04" y1="509.24" x2="59.54" y2="509.24" stroke="#151515" stroke-width="1.0"/>
<line x1="56.04" y1="512.24" x2="59.54" y2="512.24" stroke="#151515" stroke-width="1.0"/>
<line x1="83.07" y1="480.80" x2="83.07" y2="484.80" stroke="#151515" stroke-width="1.0"/>
<line x1="81.32" y1="480.80" x2="84.82" y2="480.80" stroke="#151515" stroke-width="1.0"/>
<line x1="81.32" y1="484.80" x2="84.82" y2="484.80" stroke="#151515" stroke-width="1.0"/>
<line x1="108.36" y1="455.26" x2="108.36" y2="458.26" stroke="#151515" stroke-width="1.0"/>
<line x1="106.61" y1="455.26" x2="110.11" y2="455.26" stroke="#151515" stroke-width="1.0"/>
<line x1="106.61" y1="458.26" x2="110.11" y2="458.26" stroke="#151515" stroke-width="1.0"/>
<line x1="133.64" y1="434.89" x2="133.64" y2="440.89" stroke="#151515" stroke-width="1.0"/>
<line x1="131.89" y1="434.89" x2="135.39" y2="434.89" stroke="#151515" stroke-width="1.0"/>
<line x1="131.89" y1="440.89" x2="135.39" y2="440.89" stroke="#151515" stroke-width="1.0"/>
<line x1="158.93" y1="417.99" x2="158.93" y2="425.59" stroke="#151515" stroke-width="1.0"/>
<line x1="157.18" y1="417.99" x2="160.68" y2="417.99" stroke="#151515" stroke-width="1.0"/>
<line x1="157.18" y1="425.59" x2="160.68" y2="425.59" stroke="#151515" stroke-width="1.0"/>
<line x1="184.21" y1="405.46" x2="184.21" y2="413.06" stroke="#151515" stroke-width="1.0"/>
<line x1="182.46" y1="405.46" x2="185.96" y2="405.46" stroke="#151515" stroke-width="1.0"/>
<line x1="182.46" y1="413.06" x2="185.96" y2="413.06" stroke="#151515" stroke-width="1.0"/>
<line x1="209.50" y1="393.31" x2="209.50" y2="401.91" stroke="#151515" stroke-width="1.0"/>
<line x1="207.75" y1="393.31" x2="211.25" y2="393.31" stroke="#151515" stroke-width="1.0"/>
<line x1="207.75" y1="401.91" x2="211.25" y2="401.91" stroke="#151515" stroke-width="1.0"/>
<rect x="23.50" y="386.70" width="195.10" height="140.20" fill="none" stroke="#4a4a4a" stroke-width="1.0"/>
<line x1="21.30" y1="521.10" x2="23.50" y2="521.10" stroke="#4a4a4a" stroke-width="0.8"/>
<text x="20.00" y="523.80" font-size="6.57" fill="#111" stroke="#111" stroke-width="0.12" text-anchor="end">0</text>
<line x1="21.30" y1="499.51" x2="23.50" y2="499.51" stroke="#4a4a4a" stroke-width="0.8"/>
<text x="20.00" y="502.21" font-size="6.57" fill="#111" stroke="#111" stroke-width="0.12" text-anchor="end" textLength="7.60" lengthAdjust="spacingAndGlyphs">50</text>
<line x1="21.30" y1="477.92" x2="23.50" y2="477.92" stroke="#4a4a4a" stroke-width="0.8"/>
<text x="20.00" y="480.62" font-size="6.57" fill="#111" stroke="#111" stroke-width="0.12" text-anchor="end" textLength="11.39" lengthAdjust="spacingAndGlyphs">100</text>
<line x1="21.30" y1="456.33" x2="23.50" y2="456.33" stroke="#4a4a4a" stroke-width="0.8"/>
<text x="20.00" y="459.03" font-size="6.57" fill="#111" stroke="#111" stroke-width="0.12" text-anchor="end" textLength="11.39" lengthAdjust="spacingAndGlyphs">150</text>
<line x1="21.30" y1="434.74" x2="23.50" y2="434.74" stroke="#4a4a4a" stroke-width="0.8"/>
<text x="20.00" y="437.44" font-size="6.57" fill="#111" stroke="#111" stroke-width="0.12" text-anchor="end" textLength="11.39" lengthAdjust="spacingAndGlyphs">200</text>
<line x1="21.30" y1="413.15" x2="23.50" y2="413.15" stroke="#4a4a4a" stroke-width="0.8"/>
<text x="20.00" y="415.85" font-size="6.57" fill="#111" stroke="#111" stroke-width="0.12" text-anchor="end" textLength="11.39" lengthAdjust="spacingAndGlyphs">250</text>
<line x1="21.30" y1="391.56" x2="23.50" y2="391.56" stroke="#4a4a4a" stroke-width="0.8"/>
<text x="20.00" y="394.26" font-size="6.57" fill="#111" stroke="#111" stroke-width="0.12" text-anchor="end" textLength="11.39" lengthAdjust="spacingAndGlyphs">300</text>
<line x1="32.50" y1="526.90" x2="32.50" y2="529.10" stroke="#4a4a4a" stroke-width="0.8"/>
<text x="32.50" y="535.50" font-size="6.57" fill="#111" stroke="#111" stroke-width="0.12" text-anchor="middle">5</text>
<line x1="57.79" y1="526.90" x2="57.79" y2="529.10" stroke="#4a4a4a" stroke-width="0.8"/>
<text x="57.79" y="535.50" font-size="6.57" fill="#111" stroke="#111" stroke-width="0.12" text-anchor="middle" textLength="7.60" lengthAdjust="spacingAndGlyphs">10</text>
<line x1="83.07" y1="526.90" x2="83.07" y2="529.10" stroke="#4a4a4a" stroke-width="0.8"/>
<text x="83.07" y="535.50" font-size="6.57" fill="#111" stroke="#111" stroke-width="0.12" text-anchor="middle" textLength="7.60" lengthAdjust="spacingAndGlyphs">15</text>
<line x1="108.36" y1="526.90" x2="108.36" y2="529.10" stroke="#4a4a4a" stroke-width="0.8"/>
<text x="108.36" y="535.50" font-size="6.57" fill="#111" stroke="#111" stroke-width="0.12" text-anchor="middle" textLength="7.60" lengthAdjust="spacingAndGlyphs">20</text>
<line x1="133.64" y1="526.90" x2="133.64" y2="529.10" stroke="#4a4a4a" stroke-width="0.8"/>
<text x="133.64" y="535.50" font-size="6.57" fill="#111" stroke="#111" stroke-width="0.12" text-anchor="middle" textLength="7.60" lengthAdjust="spacingAndGlyphs">25</text>
<line x1="158.93" y1="526.90" x2="158.93" y2="529.10" stroke="#4a4a4a" stroke-width="0.8"/>
<text x="158.93" y="535.50" font-size="6.57" fill="#111" stroke="#111" stroke-width="0.12" text-anchor="middle" textLength="7.60" lengthAdjust="spacingAndGlyphs">30</text>
<line x1="184.21" y1="526.90" x2="184.21" y2="529.10" stroke="#4a4a4a" stroke-width="0.8"/>
<text x="184.21" y="535.50" font-size="6.57" fill="#111" stroke="#111" stroke-width="0.12" text-anchor="middle" textLength="7.60" lengthAdjust="spacingAndGlyphs">35</text>
<line x1="209.50" y1="526.90" x2="209.50" y2="529.10" stroke="#4a4a4a" stroke-width="0.8"/>
<text x="209.50" y="535.50" font-size="6.57" fill="#111" stroke="#111" stroke-width="0.12" text-anchor="middle" textLength="7.60" lengthAdjust="spacingAndGlyphs">40</text>
<text x="121.00" y="542.60" font-size="6.57" fill="#111" stroke="#111" stroke-width="0.12" text-anchor="middle" textLength="57.48" lengthAdjust="spacingAndGlyphs">Number of Batches</text>
<text x="5.00" y="456.50" font-size="6.57" fill="#111" stroke="#111" stroke-width="0.12" text-anchor="middle" transform="rotate(-90 5.00 456.50)" textLength="59.25" lengthAdjust="spacingAndGlyphs">Runtime in Seconds</text>
<text x="24.20" y="382.60" font-size="11.80" fill="#111" stroke="#111" stroke-width="0.12" textLength="19.14" lengthAdjust="spacingAndGlyphs">D.1</text>
<text x="121.00" y="376.60" font-size="6.57" fill="#111" stroke="#111" stroke-width="0.12" text-anchor="middle" textLength="140.77" lengthAdjust="spacingAndGlyphs">Dependency of Runtime on Number of Batches</text>
<text x="121.00" y="383.00" font-size="6.57" fill="#111" stroke="#111" stroke-width="0.12" text-anchor="middle" textLength="81.52" lengthAdjust="spacingAndGlyphs">(Dataset by Nusinow et al.)</text>
<polyline points="262.60,455.53 306.93,446.06 351.26,431.07 395.59,419.82 439.92,405.19" fill="none" stroke="#1f77b4" stroke-width="1.0" stroke-linejoin="round" stroke-linecap="butt"/>
<polyline points="262.60,393.05 306.93,471.95 351.26,497.12 395.59,511.22 439.92,519.78" fill="none" stroke="#1f77b4" stroke-width="1.0" stroke-linejoin="round" stroke-linecap="butt" stroke-dasharray="3.3 1.6"/>
<circle cx="262.60" cy="455.53" r="2.3" fill="#1f77b4"/>
<circle cx="306.93" cy="446.06" r="2.3" fill="#1f77b4"/>
<circle cx="351.26" cy="431.07" r="2.3" fill="#1f77b4"/>
<circle cx="395.59" cy="419.82" r="2.3" fill="#1f77b4"/>
<circle cx="439.92" cy="405.19" r="2.3" fill="#1f77b4"/>
<circle cx="262.60" cy="393.05" r="2.3" fill="#1f77b4"/>
<circle cx="306.93" cy="471.95" r="2.3" fill="#1f77b4"/>
<circle cx="351.26" cy="497.12" r="2.3" fill="#1f77b4"/>
<circle cx="395.59" cy="511.22" r="2.3" fill="#1f77b4"/>
<circle cx="439.92" cy="519.78" r="2.3" fill="#1f77b4"/>
<line x1="402.90" y1="397.00" x2="378.79" y2="418.80" stroke="#111" stroke-width="0.8"/>
<polygon points="373.60,423.50 376.65,416.43 380.94,421.18" fill="#000"/>
<line x1="401.90" y1="469.40" x2="378.37" y2="494.68" stroke="#111" stroke-width="0.8"/>
<polygon points="373.60,499.80 376.03,492.50 380.71,496.86" fill="#000"/>
<text x="404.00" y="395.20" font-size="5.06" fill="#111" stroke="#111" stroke-width="0.12" font-style="italic" textLength="24.49" lengthAdjust="spacingAndGlyphs">ASW Label</text>
<text x="403.30" y="467.40" font-size="5.06" fill="#111" stroke="#111" stroke-width="0.12" font-style="italic" textLength="25.30" lengthAdjust="spacingAndGlyphs">ASW Batch</text>
<rect x="253.90" y="386.70" width="194.70" height="139.70" fill="none" stroke="#4a4a4a" stroke-width="1.0"/>
<line x1="251.70" y1="518.00" x2="253.90" y2="518.00" stroke="#4a4a4a" stroke-width="0.8"/>
<text x="250.40" y="520.70" font-size="6.57" fill="#111" stroke="#111" stroke-width="0.12" text-anchor="end" textLength="18.29" lengthAdjust="spacingAndGlyphs">−0.02</text>
<line x1="251.70" y1="500.15" x2="253.90" y2="500.15" stroke="#4a4a4a" stroke-width="0.8"/>
<text x="250.40" y="502.85" font-size="6.57" fill="#111" stroke="#111" stroke-width="0.12" text-anchor="end" textLength="18.29" lengthAdjust="spacingAndGlyphs">−0.01</text>
<line x1="251.70" y1="482.30" x2="253.90" y2="482.30" stroke="#4a4a4a" stroke-width="0.8"/>
<text x="250.40" y="485.00" font-size="6.57" fill="#111" stroke="#111" stroke-width="0.12" text-anchor="end" textLength="13.29" lengthAdjust="spacingAndGlyphs">0.00</text>
<line x1="251.70" y1="464.45" x2="253.90" y2="464.45" stroke="#4a4a4a" stroke-width="0.8"/>
<text x="250.40" y="467.15" font-size="6.57" fill="#111" stroke="#111" stroke-width="0.12" text-anchor="end" textLength="13.29" lengthAdjust="spacingAndGlyphs">0.01</text>
<line x1="251.70" y1="446.60" x2="253.90" y2="446.60" stroke="#4a4a4a" stroke-width="0.8"/>
<text x="250.40" y="449.30" font-size="6.57" fill="#111" stroke="#111" stroke-width="0.12" text-anchor="end" textLength="13.29" lengthAdjust="spacingAndGlyphs">0.02</text>
<line x1="251.70" y1="428.75" x2="253.90" y2="428.75" stroke="#4a4a4a" stroke-width="0.8"/>
<text x="250.40" y="431.45" font-size="6.57" fill="#111" stroke="#111" stroke-width="0.12" text-anchor="end" textLength="13.29" lengthAdjust="spacingAndGlyphs">0.03</text>
<line x1="251.70" y1="410.90" x2="253.90" y2="410.90" stroke="#4a4a4a" stroke-width="0.8"/>
<text x="250.40" y="413.60" font-size="6.57" fill="#111" stroke="#111" stroke-width="0.12" text-anchor="end" textLength="13.29" lengthAdjust="spacingAndGlyphs">0.04</text>
<line x1="251.70" y1="393.05" x2="253.90" y2="393.05" stroke="#4a4a4a" stroke-width="0.8"/>
<text x="250.40" y="395.75" font-size="6.57" fill="#111" stroke="#111" stroke-width="0.12" text-anchor="end" textLength="13.29" lengthAdjust="spacingAndGlyphs">0.05</text>
<line x1="262.60" y1="526.40" x2="262.60" y2="528.60" stroke="#4a4a4a" stroke-width="0.8"/>
<text x="262.60" y="535.00" font-size="6.57" fill="#111" stroke="#111" stroke-width="0.12" text-anchor="middle">2</text>
<line x1="306.93" y1="526.40" x2="306.93" y2="528.60" stroke="#4a4a4a" stroke-width="0.8"/>
<text x="306.93" y="535.00" font-size="6.57" fill="#111" stroke="#111" stroke-width="0.12" text-anchor="middle">3</text>
<line x1="351.26" y1="526.40" x2="351.26" y2="528.60" stroke="#4a4a4a" stroke-width="0.8"/>
<text x="351.26" y="535.00" font-size="6.57" fill="#111" stroke="#111" stroke-width="0.12" text-anchor="middle">4</text>
<line x1="395.59" y1="526.40" x2="395.59" y2="528.60" stroke="#4a4a4a" stroke-width="0.8"/>
<text x="395.59" y="535.00" font-size="6.57" fill="#111" stroke="#111" stroke-width="0.12" text-anchor="middle">5</text>
<line x1="439.92" y1="526.40" x2="439.92" y2="528.60" stroke="#4a4a4a" stroke-width="0.8"/>
<text x="439.92" y="535.00" font-size="6.57" fill="#111" stroke="#111" stroke-width="0.12" text-anchor="middle">6</text>
<text x="351.20" y="542.60" font-size="6.57" fill="#111" stroke="#111" stroke-width="0.12" text-anchor="middle" textLength="66.71" lengthAdjust="spacingAndGlyphs">Number of References</text>
<text x="228.20" y="456.30" font-size="6.57" fill="#111" stroke="#111" stroke-width="0.12" text-anchor="middle" transform="rotate(-90 228.20 456.30)" textLength="13.78" lengthAdjust="spacingAndGlyphs">ASW</text>
<text x="254.20" y="382.60" font-size="11.80" fill="#111" stroke="#111" stroke-width="0.12" textLength="17.60" lengthAdjust="spacingAndGlyphs">E.1</text>
<text x="351.20" y="376.60" font-size="6.57" fill="#111" stroke="#111" stroke-width="0.12" text-anchor="middle" textLength="91.97" lengthAdjust="spacingAndGlyphs">Dependency of ASW Scores on</text>
<text x="351.20" y="383.00" font-size="6.57" fill="#111" stroke="#111" stroke-width="0.12" text-anchor="middle" textLength="138.72" lengthAdjust="spacingAndGlyphs">Number of References (Dataset by Krug et al.)</text>
<rect x="499.00" y="450.70" width="78.60" height="30.90" fill="none" stroke="#111" stroke-width="0.95"/>
<line x1="499.00" y1="458.10" x2="577.60" y2="458.10" stroke="#111" stroke-width="0.95"/>
<line x1="538.30" y1="450.70" x2="538.30" y2="430.20" stroke="#111" stroke-width="0.95"/>
<line x1="538.30" y1="481.60" x2="538.30" y2="519.90" stroke="#111" stroke-width="0.95"/>
<line x1="518.80" y1="430.20" x2="557.80" y2="430.20" stroke="#111" stroke-width="0.95"/>
<line x1="518.80" y1="519.90" x2="557.80" y2="519.90" stroke="#111" stroke-width="0.95"/>
<rect x="596.40" y="400.00" width="78.80" height="11.10" fill="none" stroke="#111" stroke-width="0.95"/>
<line x1="596.40" y1="403.70" x2="675.20" y2="403.70" stroke="#111" stroke-width="0.95"/>
<line x1="635.80" y1="400.00" x2="635.80" y2="393.30" stroke="#111" stroke-width="0.95"/>
<line x1="635.80" y1="411.10" x2="635.80" y2="420.10" stroke="#111" stroke-width="0.95"/>
<line x1="616.00" y1="393.30" x2="655.60" y2="393.30" stroke="#111" stroke-width="0.95"/>
<line x1="616.00" y1="420.10" x2="655.60" y2="420.10" stroke="#111" stroke-width="0.95"/>
<rect x="488.90" y="386.70" width="195.60" height="139.70" fill="none" stroke="#4a4a4a" stroke-width="1.0"/>
<line x1="486.70" y1="505.70" x2="488.90" y2="505.70" stroke="#4a4a4a" stroke-width="0.8"/>
<text x="485.40" y="508.40" font-size="6.57" fill="#111" stroke="#111" stroke-width="0.12" text-anchor="end" textLength="13.29" lengthAdjust="spacingAndGlyphs">0.65</text>
<line x1="486.70" y1="479.20" x2="488.90" y2="479.20" stroke="#4a4a4a" stroke-width="0.8"/>
<text x="485.40" y="481.90" font-size="6.57" fill="#111" stroke="#111" stroke-width="0.12" text-anchor="end" textLength="13.29" lengthAdjust="spacingAndGlyphs">0.70</text>
<line x1="486.70" y1="452.70" x2="488.90" y2="452.70" stroke="#4a4a4a" stroke-width="0.8"/>
<text x="485.40" y="455.40" font-size="6.57" fill="#111" stroke="#111" stroke-width="0.12" text-anchor="end" textLength="13.29" lengthAdjust="spacingAndGlyphs">0.75</text>
<line x1="486.70" y1="426.20" x2="488.90" y2="426.20" stroke="#4a4a4a" stroke-width="0.8"/>
<text x="485.40" y="428.90" font-size="6.57" fill="#111" stroke="#111" stroke-width="0.12" text-anchor="end" textLength="13.29" lengthAdjust="spacingAndGlyphs">0.80</text>
<line x1="486.70" y1="399.70" x2="488.90" y2="399.70" stroke="#4a4a4a" stroke-width="0.8"/>
<text x="485.40" y="402.40" font-size="6.57" fill="#111" stroke="#111" stroke-width="0.12" text-anchor="end" textLength="13.29" lengthAdjust="spacingAndGlyphs">0.85</text>
<line x1="538.30" y1="526.40" x2="538.30" y2="528.60" stroke="#4a4a4a" stroke-width="0.8"/>
<text x="538.30" y="534.60" font-size="6.57" fill="#111" stroke="#111" stroke-width="0.12" text-anchor="middle" textLength="28.71" lengthAdjust="spacingAndGlyphs">Raw Data</text>
<line x1="635.80" y1="526.40" x2="635.80" y2="528.60" stroke="#4a4a4a" stroke-width="0.8"/>
<text x="635.80" y="534.60" font-size="6.57" fill="#111" stroke="#111" stroke-width="0.12" text-anchor="middle" textLength="42.28" lengthAdjust="spacingAndGlyphs">Adjusted Data</text>
<text x="466.80" y="455.70" font-size="6.57" fill="#111" stroke="#111" stroke-width="0.12" text-anchor="middle" transform="rotate(-90 466.80 455.70)" textLength="56.75" lengthAdjust="spacingAndGlyphs">Balanced Accuracy</text>
<text x="489.60" y="382.60" font-size="11.80" fill="#111" stroke="#111" stroke-width="0.12" textLength="18.34" lengthAdjust="spacingAndGlyphs">C.3</text>
<text x="587.00" y="376.60" font-size="6.57" fill="#111" stroke="#111" stroke-width="0.12" text-anchor="middle" textLength="145.21" lengthAdjust="spacingAndGlyphs">Balanced Accuracy of SVC on Uncorrected (Raw)</text>
<text x="587.00" y="383.20" font-size="6.57" fill="#111" stroke="#111" stroke-width="0.12" text-anchor="middle" textLength="112.89" lengthAdjust="spacingAndGlyphs">and BERT-Corrected Data (Krug et al.)</text>
<polyline points="32.50,702.29 57.79,684.41 83.07,666.10 108.36,648.22 133.64,629.91 158.93,611.60 184.21,593.29 209.50,575.41" fill="none" stroke="#1f77b4" stroke-width="1.2" stroke-linejoin="round" stroke-linecap="butt"/>
<polyline points="32.50,702.29 57.79,684.41 83.07,666.10 108.36,648.22 133.64,629.91 158.93,611.60 184.21,593.29 209.50,575.41" fill="none" stroke="#ff7f0e" stroke-width="1.2" stroke-linejoin="round" stroke-linecap="butt" stroke-dasharray="0.9 2.6"/>
<polyline points="32.50,702.29 57.79,684.41 83.07,666.97 108.36,650.40 133.64,634.71 158.93,619.45 184.21,604.19 209.50,589.36" fill="none" stroke="#2ca02c" stroke-width="1.2" stroke-linejoin="round" stroke-linecap="butt"/>
<polyline points="32.50,702.29 57.79,684.41 83.07,666.97 108.36,650.40 133.64,634.71 158.93,619.45 184.21,604.19 209.50,589.36" fill="none" stroke="#d62728" stroke-width="1.2" stroke-linejoin="round" stroke-linecap="butt" stroke-dasharray="0.9 2.6"/>
<polyline points="32.50,702.29 57.79,684.41 83.07,673.51 108.36,663.92 133.64,653.89 158.93,644.30 184.21,634.27 209.50,624.24" fill="none" stroke="#e377c2" stroke-width="1.2" stroke-linejoin="round" stroke-linecap="butt"/>
<polyline points="32.50,702.29 57.79,684.41 83.07,673.51 108.36,663.92 133.64,653.89 158.93,644.30 184.21,634.27 209.50,624.24" fill="none" stroke="#7f7f7f" stroke-width="1.2" stroke-linejoin="round" stroke-linecap="butt" stroke-dasharray="0.9 2.6"/>
<line x1="31.00" y1="702.29" x2="34.00" y2="702.29" stroke="#111" stroke-width="1.0"/>
<line x1="56.29" y1="684.41" x2="59.29" y2="684.41" stroke="#111" stroke-width="1.0"/>
<line x1="81.57" y1="666.10" x2="84.57" y2="666.10" stroke="#111" stroke-width="1.0"/>
<line x1="106.86" y1="648.22" x2="109.86" y2="648.22" stroke="#111" stroke-width="1.0"/>
<line x1="132.14" y1="629.91" x2="135.14" y2="629.91" stroke="#111" stroke-width="1.0"/>
<line x1="157.43" y1="611.60" x2="160.43" y2="611.60" stroke="#111" stroke-width="1.0"/>
<line x1="182.71" y1="593.29" x2="185.71" y2="593.29" stroke="#111" stroke-width="1.0"/>
<line x1="208.00" y1="575.41" x2="211.00" y2="575.41" stroke="#111" stroke-width="1.0"/>
<line x1="31.00" y1="702.29" x2="34.00" y2="702.29" stroke="#111" stroke-width="1.0"/>
<line x1="56.29" y1="684.41" x2="59.29" y2="684.41" stroke="#111" stroke-width="1.0"/>
<line x1="81.57" y1="666.97" x2="84.57" y2="666.97" stroke="#111" stroke-width="1.0"/>
<line x1="106.86" y1="650.40" x2="109.86" y2="650.40" stroke="#111" stroke-width="1.0"/>
<line x1="132.14" y1="634.71" x2="135.14" y2="634.71" stroke="#111" stroke-width="1.0"/>
<line x1="157.43" y1="619.45" x2="160.43" y2="619.45" stroke="#111" stroke-width="1.0"/>
<line x1="182.71" y1="604.19" x2="185.71" y2="604.19" stroke="#111" stroke-width="1.0"/>
<line x1="208.00" y1="589.36" x2="211.00" y2="589.36" stroke="#111" stroke-width="1.0"/>
<line x1="31.00" y1="702.29" x2="34.00" y2="702.29" stroke="#111" stroke-width="1.0"/>
<line x1="56.29" y1="684.41" x2="59.29" y2="684.41" stroke="#111" stroke-width="1.0"/>
<line x1="81.57" y1="673.51" x2="84.57" y2="673.51" stroke="#111" stroke-width="1.0"/>
<line x1="106.86" y1="663.92" x2="109.86" y2="663.92" stroke="#111" stroke-width="1.0"/>
<line x1="132.14" y1="653.89" x2="135.14" y2="653.89" stroke="#111" stroke-width="1.0"/>
<line x1="157.43" y1="644.30" x2="160.43" y2="644.30" stroke="#111" stroke-width="1.0"/>
<line x1="182.71" y1="634.27" x2="185.71" y2="634.27" stroke="#111" stroke-width="1.0"/>
<line x1="208.00" y1="624.24" x2="211.00" y2="624.24" stroke="#111" stroke-width="1.0"/>
<rect x="23.50" y="569.20" width="195.10" height="139.70" fill="none" stroke="#4a4a4a" stroke-width="1.0"/>
<line x1="21.30" y1="698.80" x2="23.50" y2="698.80" stroke="#4a4a4a" stroke-width="0.8"/>
<text x="20.00" y="701.50" font-size="6.57" fill="#111" stroke="#111" stroke-width="0.12" text-anchor="end" textLength="9.49" lengthAdjust="spacingAndGlyphs">0.5</text>
<line x1="21.30" y1="677.00" x2="23.50" y2="677.00" stroke="#4a4a4a" stroke-width="0.8"/>
<text x="20.00" y="679.70" font-size="6.57" fill="#111" stroke="#111" stroke-width="0.12" text-anchor="end" textLength="9.49" lengthAdjust="spacingAndGlyphs">1.0</text>
<line x1="21.30" y1="655.20" x2="23.50" y2="655.20" stroke="#4a4a4a" stroke-width="0.8"/>
<text x="20.00" y="657.90" font-size="6.57" fill="#111" stroke="#111" stroke-width="0.12" text-anchor="end" textLength="9.49" lengthAdjust="spacingAndGlyphs">1.5</text>
<line x1="21.30" y1="633.40" x2="23.50" y2="633.40" stroke="#4a4a4a" stroke-width="0.8"/>
<text x="20.00" y="636.10" font-size="6.57" fill="#111" stroke="#111" stroke-width="0.12" text-anchor="end" textLength="9.49" lengthAdjust="spacingAndGlyphs">2.0</text>
<line x1="21.30" y1="611.60" x2="23.50" y2="611.60" stroke="#4a4a4a" stroke-width="0.8"/>
<text x="20.00" y="614.30" font-size="6.57" fill="#111" stroke="#111" stroke-width="0.12" text-anchor="end" textLength="9.49" lengthAdjust="spacingAndGlyphs">2.5</text>
<line x1="21.30" y1="589.80" x2="23.50" y2="589.80" stroke="#4a4a4a" stroke-width="0.8"/>
<text x="20.00" y="592.50" font-size="6.57" fill="#111" stroke="#111" stroke-width="0.12" text-anchor="end" textLength="9.49" lengthAdjust="spacingAndGlyphs">3.0</text>
<line x1="32.50" y1="708.90" x2="32.50" y2="711.10" stroke="#4a4a4a" stroke-width="0.8"/>
<text x="32.50" y="717.50" font-size="6.57" fill="#111" stroke="#111" stroke-width="0.12" text-anchor="middle">5</text>
<line x1="57.79" y1="708.90" x2="57.79" y2="711.10" stroke="#4a4a4a" stroke-width="0.8"/>
<text x="57.79" y="717.50" font-size="6.57" fill="#111" stroke="#111" stroke-width="0.12" text-anchor="middle" textLength="7.60" lengthAdjust="spacingAndGlyphs">10</text>
<line x1="83.07" y1="708.90" x2="83.07" y2="711.10" stroke="#4a4a4a" stroke-width="0.8"/>
<text x="83.07" y="717.50" font-size="6.57" fill="#111" stroke="#111" stroke-width="0.12" text-anchor="middle" textLength="7.60" lengthAdjust="spacingAndGlyphs">15</text>
<line x1="108.36" y1="708.90" x2="108.36" y2="711.10" stroke="#4a4a4a" stroke-width="0.8"/>
<text x="108.36" y="717.50" font-size="6.57" fill="#111" stroke="#111" stroke-width="0.12" text-anchor="middle" textLength="7.60" lengthAdjust="spacingAndGlyphs">20</text>
<line x1="133.64" y1="708.90" x2="133.64" y2="711.10" stroke="#4a4a4a" stroke-width="0.8"/>
<text x="133.64" y="717.50" font-size="6.57" fill="#111" stroke="#111" stroke-width="0.12" text-anchor="middle" textLength="7.60" lengthAdjust="spacingAndGlyphs">25</text>
<line x1="158.93" y1="708.90" x2="158.93" y2="711.10" stroke="#4a4a4a" stroke-width="0.8"/>
<text x="158.93" y="717.50" font-size="6.57" fill="#111" stroke="#111" stroke-width="0.12" text-anchor="middle" textLength="7.60" lengthAdjust="spacingAndGlyphs">30</text>
<line x1="184.21" y1="708.90" x2="184.21" y2="711.10" stroke="#4a4a4a" stroke-width="0.8"/>
<text x="184.21" y="717.50" font-size="6.57" fill="#111" stroke="#111" stroke-width="0.12" text-anchor="middle" textLength="7.60" lengthAdjust="spacingAndGlyphs">35</text>
<line x1="209.50" y1="708.90" x2="209.50" y2="711.10" stroke="#4a4a4a" stroke-width="0.8"/>
<text x="209.50" y="717.50" font-size="6.57" fill="#111" stroke="#111" stroke-width="0.12" text-anchor="middle" textLength="7.60" lengthAdjust="spacingAndGlyphs">40</text>
<text x="121.00" y="725.30" font-size="6.57" fill="#111" stroke="#111" stroke-width="0.12" text-anchor="middle" textLength="57.48" lengthAdjust="spacingAndGlyphs">Number of Batches</text>
<text x="6.30" y="637.30" font-size="6.57" fill="#111" stroke="#111" stroke-width="0.12" text-anchor="middle" transform="rotate(-90 6.30 637.30)" textLength="80.07" lengthAdjust="spacingAndGlyphs">Number of Numeric Values</text>
<text x="24.20" y="559.10" font-size="11.80" fill="#111" stroke="#111" stroke-width="0.12" textLength="19.14" lengthAdjust="spacingAndGlyphs">D.2</text>
<text x="23.50" y="566.50" font-size="6.57" fill="#111" stroke="#111" stroke-width="0.12" textLength="11.27" lengthAdjust="spacingAndGlyphs">1e6</text>
<text x="121.00" y="553.10" font-size="6.57" fill="#111" stroke="#111" stroke-width="0.12" text-anchor="middle" textLength="122.18" lengthAdjust="spacingAndGlyphs">Dependency of Retained Num. Values on</text>
<text x="121.00" y="559.70" font-size="6.57" fill="#111" stroke="#111" stroke-width="0.12" text-anchor="middle" textLength="140.89" lengthAdjust="spacingAndGlyphs">Number of Batches (Dataset by Nusinow et al.)</text>
<rect x="257.80" y="607.10" width="31.80" height="62.90" fill="none" stroke="#111" stroke-width="0.95"/>
<line x1="257.80" y1="646.40" x2="289.60" y2="646.40" stroke="#111" stroke-width="0.95"/>
<line x1="273.70" y1="607.10" x2="273.70" y2="590.30" stroke="#111" stroke-width="0.95"/>
<line x1="273.70" y1="670.00" x2="273.70" y2="702.20" stroke="#111" stroke-width="0.95"/>
<line x1="265.70" y1="590.30" x2="281.70" y2="590.30" stroke="#111" stroke-width="0.95"/>
<line x1="265.70" y1="702.20" x2="281.70" y2="702.20" stroke="#111" stroke-width="0.95"/>
<rect x="296.68" y="583.60" width="31.80" height="12.10" fill="none" stroke="#111" stroke-width="0.95"/>
<line x1="296.68" y1="585.30" x2="328.48" y2="585.30" stroke="#111" stroke-width="0.95"/>
<line x1="312.58" y1="583.60" x2="312.58" y2="576.90" stroke="#111" stroke-width="0.95"/>
<line x1="312.58" y1="595.70" x2="312.58" y2="602.80" stroke="#111" stroke-width="0.95"/>
<line x1="304.58" y1="576.90" x2="320.58" y2="576.90" stroke="#111" stroke-width="0.95"/>
<line x1="304.58" y1="602.80" x2="320.58" y2="602.80" stroke="#111" stroke-width="0.95"/>
<rect x="335.56" y="577.60" width="31.80" height="5.40" fill="none" stroke="#111" stroke-width="0.95"/>
<line x1="335.56" y1="579.90" x2="367.36" y2="579.90" stroke="#111" stroke-width="0.95"/>
<line x1="351.46" y1="577.60" x2="351.46" y2="575.60" stroke="#111" stroke-width="0.95"/>
<line x1="351.46" y1="583.00" x2="351.46" y2="590.30" stroke="#111" stroke-width="0.95"/>
<line x1="343.46" y1="575.60" x2="359.46" y2="575.60" stroke="#111" stroke-width="0.95"/>
<line x1="343.46" y1="590.30" x2="359.46" y2="590.30" stroke="#111" stroke-width="0.95"/>
<rect x="374.44" y="575.20" width="31.80" height="3.40" fill="none" stroke="#111" stroke-width="0.95"/>
<line x1="374.44" y1="577.20" x2="406.24" y2="577.20" stroke="#111" stroke-width="0.95"/>
<line x1="390.34" y1="575.20" x2="390.34" y2="575.00" stroke="#111" stroke-width="0.95"/>
<line x1="390.34" y1="578.60" x2="390.34" y2="583.00" stroke="#111" stroke-width="0.95"/>
<line x1="382.34" y1="575.00" x2="398.34" y2="575.00" stroke="#111" stroke-width="0.95"/>
<line x1="382.34" y1="583.00" x2="398.34" y2="583.00" stroke="#111" stroke-width="0.95"/>
<rect x="413.32" y="575.60" width="31.80" height="1.30" fill="none" stroke="#111" stroke-width="0.95"/>
<line x1="413.32" y1="576.20" x2="445.12" y2="576.20" stroke="#111" stroke-width="0.95"/>
<line x1="429.22" y1="575.60" x2="429.22" y2="575.40" stroke="#111" stroke-width="0.95"/>
<line x1="429.22" y1="576.90" x2="429.22" y2="577.90" stroke="#111" stroke-width="0.95"/>
<line x1="421.22" y1="575.40" x2="437.22" y2="575.40" stroke="#111" stroke-width="0.95"/>
<line x1="421.22" y1="577.90" x2="437.22" y2="577.90" stroke="#111" stroke-width="0.95"/>
<circle cx="429.22" cy="579.9" r="1.9" fill="none" stroke="#111" stroke-width="0.8"/>
<rect x="254.20" y="569.20" width="194.50" height="139.40" fill="none" stroke="#4a4a4a" stroke-width="1.0"/>
<line x1="252.00" y1="706.40" x2="254.20" y2="706.40" stroke="#4a4a4a" stroke-width="0.8"/>
<text x="250.70" y="709.10" font-size="6.57" fill="#111" stroke="#111" stroke-width="0.12" text-anchor="end" textLength="11.39" lengthAdjust="spacingAndGlyphs">300</text>
<line x1="252.00" y1="689.25" x2="254.20" y2="689.25" stroke="#4a4a4a" stroke-width="0.8"/>
<text x="250.70" y="691.95" font-size="6.57" fill="#111" stroke="#111" stroke-width="0.12" text-anchor="end" textLength="11.39" lengthAdjust="spacingAndGlyphs">325</text>
<line x1="252.00" y1="672.10" x2="254.20" y2="672.10" stroke="#4a4a4a" stroke-width="0.8"/>
<text x="250.70" y="674.80" font-size="6.57" fill="#111" stroke="#111" stroke-width="0.12" text-anchor="end" textLength="11.39" lengthAdjust="spacingAndGlyphs">350</text>
<line x1="252.00" y1="654.95" x2="254.20" y2="654.95" stroke="#4a4a4a" stroke-width="0.8"/>
<text x="250.70" y="657.65" font-size="6.57" fill="#111" stroke="#111" stroke-width="0.12" text-anchor="end" textLength="11.39" lengthAdjust="spacingAndGlyphs">375</text>
<line x1="252.00" y1="637.80" x2="254.20" y2="637.80" stroke="#4a4a4a" stroke-width="0.8"/>
<text x="250.70" y="640.50" font-size="6.57" fill="#111" stroke="#111" stroke-width="0.12" text-anchor="end" textLength="11.39" lengthAdjust="spacingAndGlyphs">400</text>
<line x1="252.00" y1="620.65" x2="254.20" y2="620.65" stroke="#4a4a4a" stroke-width="0.8"/>
<text x="250.70" y="623.35" font-size="6.57" fill="#111" stroke="#111" stroke-width="0.12" text-anchor="end" textLength="11.39" lengthAdjust="spacingAndGlyphs">425</text>
<line x1="252.00" y1="603.50" x2="254.20" y2="603.50" stroke="#4a4a4a" stroke-width="0.8"/>
<text x="250.70" y="606.20" font-size="6.57" fill="#111" stroke="#111" stroke-width="0.12" text-anchor="end" textLength="11.39" lengthAdjust="spacingAndGlyphs">450</text>
<line x1="252.00" y1="586.35" x2="254.20" y2="586.35" stroke="#4a4a4a" stroke-width="0.8"/>
<text x="250.70" y="589.05" font-size="6.57" fill="#111" stroke="#111" stroke-width="0.12" text-anchor="end" textLength="11.39" lengthAdjust="spacingAndGlyphs">475</text>
<line x1="252.00" y1="569.20" x2="254.20" y2="569.20" stroke="#4a4a4a" stroke-width="0.8"/>
<text x="250.70" y="571.90" font-size="6.57" fill="#111" stroke="#111" stroke-width="0.12" text-anchor="end" textLength="11.39" lengthAdjust="spacingAndGlyphs">500</text>
<line x1="273.70" y1="708.60" x2="273.70" y2="710.80" stroke="#4a4a4a" stroke-width="0.8"/>
<text x="273.70" y="717.20" font-size="6.57" fill="#111" stroke="#111" stroke-width="0.12" text-anchor="middle">2</text>
<line x1="312.58" y1="708.60" x2="312.58" y2="710.80" stroke="#4a4a4a" stroke-width="0.8"/>
<text x="312.58" y="717.20" font-size="6.57" fill="#111" stroke="#111" stroke-width="0.12" text-anchor="middle">3</text>
<line x1="351.46" y1="708.60" x2="351.46" y2="710.80" stroke="#4a4a4a" stroke-width="0.8"/>
<text x="351.46" y="717.20" font-size="6.57" fill="#111" stroke="#111" stroke-width="0.12" text-anchor="middle">4</text>
<line x1="390.34" y1="708.60" x2="390.34" y2="710.80" stroke="#4a4a4a" stroke-width="0.8"/>
<text x="390.34" y="717.20" font-size="6.57" fill="#111" stroke="#111" stroke-width="0.12" text-anchor="middle">5</text>
<line x1="429.22" y1="708.60" x2="429.22" y2="710.80" stroke="#4a4a4a" stroke-width="0.8"/>
<text x="429.22" y="717.20" font-size="6.57" fill="#111" stroke="#111" stroke-width="0.12" text-anchor="middle">6</text>
<text x="351.50" y="725.30" font-size="6.57" fill="#111" stroke="#111" stroke-width="0.12" text-anchor="middle" textLength="66.71" lengthAdjust="spacingAndGlyphs">Number of References</text>
<text x="235.20" y="639.00" font-size="6.57" fill="#111" stroke="#111" stroke-width="0.12" text-anchor="middle" transform="rotate(-90 235.20 639.00)" textLength="49.17" lengthAdjust="spacingAndGlyphs">No. Num. Values</text>
<text x="254.20" y="559.10" font-size="11.80" fill="#111" stroke="#111" stroke-width="0.12" textLength="17.60" lengthAdjust="spacingAndGlyphs">E.2</text>
<text x="254.00" y="566.50" font-size="6.57" fill="#111" stroke="#111" stroke-width="0.12" textLength="25.77" lengthAdjust="spacingAndGlyphs">+1.26e6</text>
<text x="351.50" y="553.10" font-size="6.57" fill="#111" stroke="#111" stroke-width="0.12" text-anchor="middle" textLength="122.18" lengthAdjust="spacingAndGlyphs">Dependency of Retained Num. Values on</text>
<text x="351.50" y="559.70" font-size="6.57" fill="#111" stroke="#111" stroke-width="0.12" text-anchor="middle" textLength="138.72" lengthAdjust="spacingAndGlyphs">Number of References (Dataset by Krug et al.)</text>
<rect x="498.70" y="678.16" width="35.20" height="30.34" fill="#1f77b4"/>
<rect x="533.90" y="610.98" width="35.30" height="97.52" fill="#ff7f0e"/>
<rect x="605.10" y="658.34" width="35.30" height="50.16" fill="#1f77b4"/>
<rect x="640.40" y="636.05" width="35.60" height="72.45" fill="#ff7f0e"/>
<rect x="488.90" y="569.20" width="195.90" height="139.30" fill="none" stroke="#4a4a4a" stroke-width="1.0"/>
<line x1="486.70" y1="708.50" x2="488.90" y2="708.50" stroke="#4a4a4a" stroke-width="0.8"/>
<text x="485.40" y="711.20" font-size="6.57" fill="#111" stroke="#111" stroke-width="0.12" text-anchor="end" textLength="17.09" lengthAdjust="spacingAndGlyphs">0.000</text>
<line x1="486.70" y1="693.02" x2="488.90" y2="693.02" stroke="#4a4a4a" stroke-width="0.8"/>
<text x="485.40" y="695.72" font-size="6.57" fill="#111" stroke="#111" stroke-width="0.12" text-anchor="end" textLength="17.09" lengthAdjust="spacingAndGlyphs">0.005</text>
<line x1="486.70" y1="677.54" x2="488.90" y2="677.54" stroke="#4a4a4a" stroke-width="0.8"/>
<text x="485.40" y="680.24" font-size="6.57" fill="#111" stroke="#111" stroke-width="0.12" text-anchor="end" textLength="17.09" lengthAdjust="spacingAndGlyphs">0.010</text>
<line x1="486.70" y1="662.06" x2="488.90" y2="662.06" stroke="#4a4a4a" stroke-width="0.8"/>
<text x="485.40" y="664.76" font-size="6.57" fill="#111" stroke="#111" stroke-width="0.12" text-anchor="end" textLength="17.09" lengthAdjust="spacingAndGlyphs">0.015</text>
<line x1="486.70" y1="646.58" x2="488.90" y2="646.58" stroke="#4a4a4a" stroke-width="0.8"/>
<text x="485.40" y="649.28" font-size="6.57" fill="#111" stroke="#111" stroke-width="0.12" text-anchor="end" textLength="17.09" lengthAdjust="spacingAndGlyphs">0.020</text>
<line x1="486.70" y1="631.10" x2="488.90" y2="631.10" stroke="#4a4a4a" stroke-width="0.8"/>
<text x="485.40" y="633.80" font-size="6.57" fill="#111" stroke="#111" stroke-width="0.12" text-anchor="end" textLength="17.09" lengthAdjust="spacingAndGlyphs">0.025</text>
<line x1="486.70" y1="615.62" x2="488.90" y2="615.62" stroke="#4a4a4a" stroke-width="0.8"/>
<text x="485.40" y="618.32" font-size="6.57" fill="#111" stroke="#111" stroke-width="0.12" text-anchor="end" textLength="17.09" lengthAdjust="spacingAndGlyphs">0.030</text>
<line x1="486.70" y1="600.14" x2="488.90" y2="600.14" stroke="#4a4a4a" stroke-width="0.8"/>
<text x="485.40" y="602.84" font-size="6.57" fill="#111" stroke="#111" stroke-width="0.12" text-anchor="end" textLength="17.09" lengthAdjust="spacingAndGlyphs">0.035</text>
<line x1="486.70" y1="584.66" x2="488.90" y2="584.66" stroke="#4a4a4a" stroke-width="0.8"/>
<text x="485.40" y="587.36" font-size="6.57" fill="#111" stroke="#111" stroke-width="0.12" text-anchor="end" textLength="17.09" lengthAdjust="spacingAndGlyphs">0.040</text>
<line x1="486.70" y1="569.18" x2="488.90" y2="569.18" stroke="#4a4a4a" stroke-width="0.8"/>
<text x="485.40" y="571.88" font-size="6.57" fill="#111" stroke="#111" stroke-width="0.12" text-anchor="end" textLength="17.09" lengthAdjust="spacingAndGlyphs">0.045</text>
<line x1="533.90" y1="708.50" x2="533.90" y2="710.70" stroke="#4a4a4a" stroke-width="0.8"/>
<text x="533.90" y="717.80" font-size="6.57" fill="#111" stroke="#111" stroke-width="0.12" text-anchor="middle" textLength="13.49" lengthAdjust="spacingAndGlyphs">Voss</text>
<line x1="640.40" y1="708.50" x2="640.40" y2="710.70" stroke="#4a4a4a" stroke-width="0.8"/>
<text x="640.40" y="717.80" font-size="6.57" fill="#111" stroke="#111" stroke-width="0.12" text-anchor="middle" textLength="23.45" lengthAdjust="spacingAndGlyphs">Ovarian</text>
<text x="586.80" y="725.60" font-size="6.57" fill="#111" stroke="#111" stroke-width="0.12" text-anchor="middle" textLength="22.57" lengthAdjust="spacingAndGlyphs">dataset</text>
<text x="458.40" y="639.00" font-size="6.57" fill="#111" stroke="#111" stroke-width="0.12" text-anchor="middle" transform="rotate(-90 458.40 639.00)" textLength="88.62" lengthAdjust="spacingAndGlyphs">Abs. ASW Label Improvement</text>
<text x="464.90" y="639.00" font-size="6.57" fill="#111" stroke="#111" stroke-width="0.12" text-anchor="middle" transform="rotate(-90 464.90 639.00)" textLength="46.47" lengthAdjust="spacingAndGlyphs">with Covariates</text>
<text x="489.60" y="565.60" font-size="11.80" fill="#111" stroke="#111" stroke-width="0.12" textLength="15.19" lengthAdjust="spacingAndGlyphs">F.1</text>
<text x="587.30" y="559.00" font-size="6.57" fill="#111" stroke="#111" stroke-width="0.12" text-anchor="middle" textLength="114.08" lengthAdjust="spacingAndGlyphs">ASW Improvement and Runtime Costs</text>
<text x="587.30" y="565.90" font-size="6.57" fill="#111" stroke="#111" stroke-width="0.12" text-anchor="middle" textLength="113.88" lengthAdjust="spacingAndGlyphs">for Covariate Consideration with BERT</text>
<rect x="606.50" y="582.90" width="58.90" height="41.90" fill="#ffffff"/>
<rect x="609.10" y="585.20" width="11.10" height="39.60" fill="#1f77b4"/>
<rect x="620.20" y="589.40" width="10.70" height="35.40" fill="#ff7f0e"/>
<rect x="641.00" y="586.40" width="10.80" height="38.40" fill="#1f77b4"/>
<rect x="651.80" y="600.40" width="11.00" height="24.40" fill="#ff7f0e"/>
<rect x="606.50" y="582.90" width="58.90" height="41.90" fill="none" stroke="#4a4a4a" stroke-width="1.0"/>
<line x1="604.30" y1="615.50" x2="606.50" y2="615.50" stroke="#4a4a4a" stroke-width="0.8"/>
<text x="603.00" y="618.20" font-size="6.57" fill="#111" stroke="#111" stroke-width="0.12" text-anchor="end" textLength="7.60" lengthAdjust="spacingAndGlyphs">10</text>
<line x1="604.30" y1="605.60" x2="606.50" y2="605.60" stroke="#4a4a4a" stroke-width="0.8"/>
<text x="603.00" y="608.30" font-size="6.57" fill="#111" stroke="#111" stroke-width="0.12" text-anchor="end" textLength="7.60" lengthAdjust="spacingAndGlyphs">20</text>
<line x1="604.30" y1="595.70" x2="606.50" y2="595.70" stroke="#4a4a4a" stroke-width="0.8"/>
<text x="603.00" y="598.40" font-size="6.57" fill="#111" stroke="#111" stroke-width="0.12" text-anchor="end" textLength="7.60" lengthAdjust="spacingAndGlyphs">30</text>
<line x1="620.20" y1="624.80" x2="620.20" y2="627.00" stroke="#4a4a4a" stroke-width="0.8"/>
<text x="620.20" y="634.20" font-size="6.57" fill="#111" stroke="#111" stroke-width="0.12" text-anchor="middle" textLength="13.49" lengthAdjust="spacingAndGlyphs">Voss</text>
<line x1="651.80" y1="624.80" x2="651.80" y2="627.00" stroke="#4a4a4a" stroke-width="0.8"/>
<text x="651.80" y="634.20" font-size="6.57" fill="#111" stroke="#111" stroke-width="0.12" text-anchor="middle" textLength="23.45" lengthAdjust="spacingAndGlyphs">Ovarian</text>
<text x="578.80" y="603.80" font-size="6.57" fill="#111" stroke="#111" stroke-width="0.12" text-anchor="middle" transform="rotate(-90 578.80 603.80)" textLength="55.99" lengthAdjust="spacingAndGlyphs">Runtime Overhead</text>
<text x="585.30" y="603.80" font-size="6.57" fill="#111" stroke="#111" stroke-width="0.12" text-anchor="middle" transform="rotate(-90 585.30 603.80)" textLength="46.47" lengthAdjust="spacingAndGlyphs">with Covariates</text>
<text x="591.80" y="603.80" font-size="6.57" fill="#111" stroke="#111" stroke-width="0.12" text-anchor="middle" transform="rotate(-90 591.80 603.80)" textLength="32.42" lengthAdjust="spacingAndGlyphs">in Seconds</text>
<rect x="0.50" y="731.60" width="670.60" height="18.80" fill="#ffffff" stroke="#d6d6d6" stroke-width="0.8" rx="1.5"/>
<line x1="2.00" y1="736.20" x2="16.20" y2="736.20" stroke="#1f77b4" stroke-width="1.9"/>
<text x="20.00" y="738.35" font-size="6.57" fill="#111" stroke="#111" stroke-width="0.12" textLength="61.61" lengthAdjust="spacingAndGlyphs">BERT + limma (B+L)</text>
<line x1="2.00" y1="744.40" x2="16.20" y2="744.40" stroke="#ff7f0e" stroke-width="1.9"/>
<text x="20.00" y="746.55" font-size="6.57" fill="#111" stroke="#111" stroke-width="0.12" textLength="67.58" lengthAdjust="spacingAndGlyphs">BERT + ComBat (B+C)</text>
<line x1="98.80" y1="736.20" x2="113.00" y2="736.20" stroke="#2ca02c" stroke-width="1.9"/>
<text x="116.80" y="738.35" font-size="6.57" fill="#111" stroke="#111" stroke-width="0.12" textLength="79.47" lengthAdjust="spacingAndGlyphs">HarmonizR + limma (H+L)</text>
<line x1="98.80" y1="744.40" x2="113.00" y2="744.40" stroke="#d62728" stroke-width="1.9"/>
<text x="116.80" y="746.55" font-size="6.57" fill="#111" stroke="#111" stroke-width="0.12" textLength="85.43" lengthAdjust="spacingAndGlyphs">HarmonizR + ComBat (H+C)</text>
<line x1="212.90" y1="736.20" x2="227.10" y2="736.20" stroke="#e377c2" stroke-width="1.9"/>
<text x="230.90" y="738.35" font-size="6.57" fill="#111" stroke="#111" stroke-width="0.12" textLength="121.96" lengthAdjust="spacingAndGlyphs">HarmonizR (de-activ. UR) + limma (H+L)</text>
<line x1="212.90" y1="744.40" x2="227.10" y2="744.40" stroke="#7f7f7f" stroke-width="1.9"/>
<text x="230.90" y="746.55" font-size="6.57" fill="#111" stroke="#111" stroke-width="0.12" textLength="127.93" lengthAdjust="spacingAndGlyphs">HarmonizR (de-activ. UR) + ComBat (H+C)</text>
<text x="377.00" y="739.20" font-size="8.20" fill="#1f77b4" stroke="#1f77b4" stroke-width="0.12" font-family='"Liberation Sans", sans-serif' text-anchor="middle" font-weight="bold" font-style="italic">N</text>
<text x="388.00" y="738.35" font-size="6.57" fill="#111" stroke="#111" stroke-width="0.12" textLength="70.90" lengthAdjust="spacingAndGlyphs">Luminal-A from Batch N</text>
<text x="377.00" y="747.40" font-size="8.20" fill="#ff7f0e" stroke="#ff7f0e" stroke-width="0.12" font-family='"Liberation Sans", sans-serif' text-anchor="middle" font-weight="bold" font-style="italic">N</text>
<text x="388.00" y="746.55" font-size="6.57" fill="#111" stroke="#111" stroke-width="0.12" textLength="70.83" lengthAdjust="spacingAndGlyphs">Luminal-B from Batch N</text>
<text x="476.70" y="739.20" font-size="8.20" fill="#2ca02c" stroke="#2ca02c" stroke-width="0.12" font-family='"Liberation Sans", sans-serif' text-anchor="middle" font-weight="bold" font-style="italic">N</text>
<text x="487.70" y="738.35" font-size="6.57" fill="#111" stroke="#111" stroke-width="0.12" textLength="69.78" lengthAdjust="spacingAndGlyphs">Basal-like from Batch N</text>
<text x="575.10" y="739.20" font-size="8.20" fill="#d62728" stroke="#d62728" stroke-width="0.12" font-family='"Liberation Sans", sans-serif' text-anchor="middle" font-weight="bold" font-style="italic">N</text>
<text x="586.10" y="738.35" font-size="6.57" fill="#111" stroke="#111" stroke-width="0.12" textLength="82.73" lengthAdjust="spacingAndGlyphs">HER2 positive from Batch N</text>
</svg>
</body></html>
